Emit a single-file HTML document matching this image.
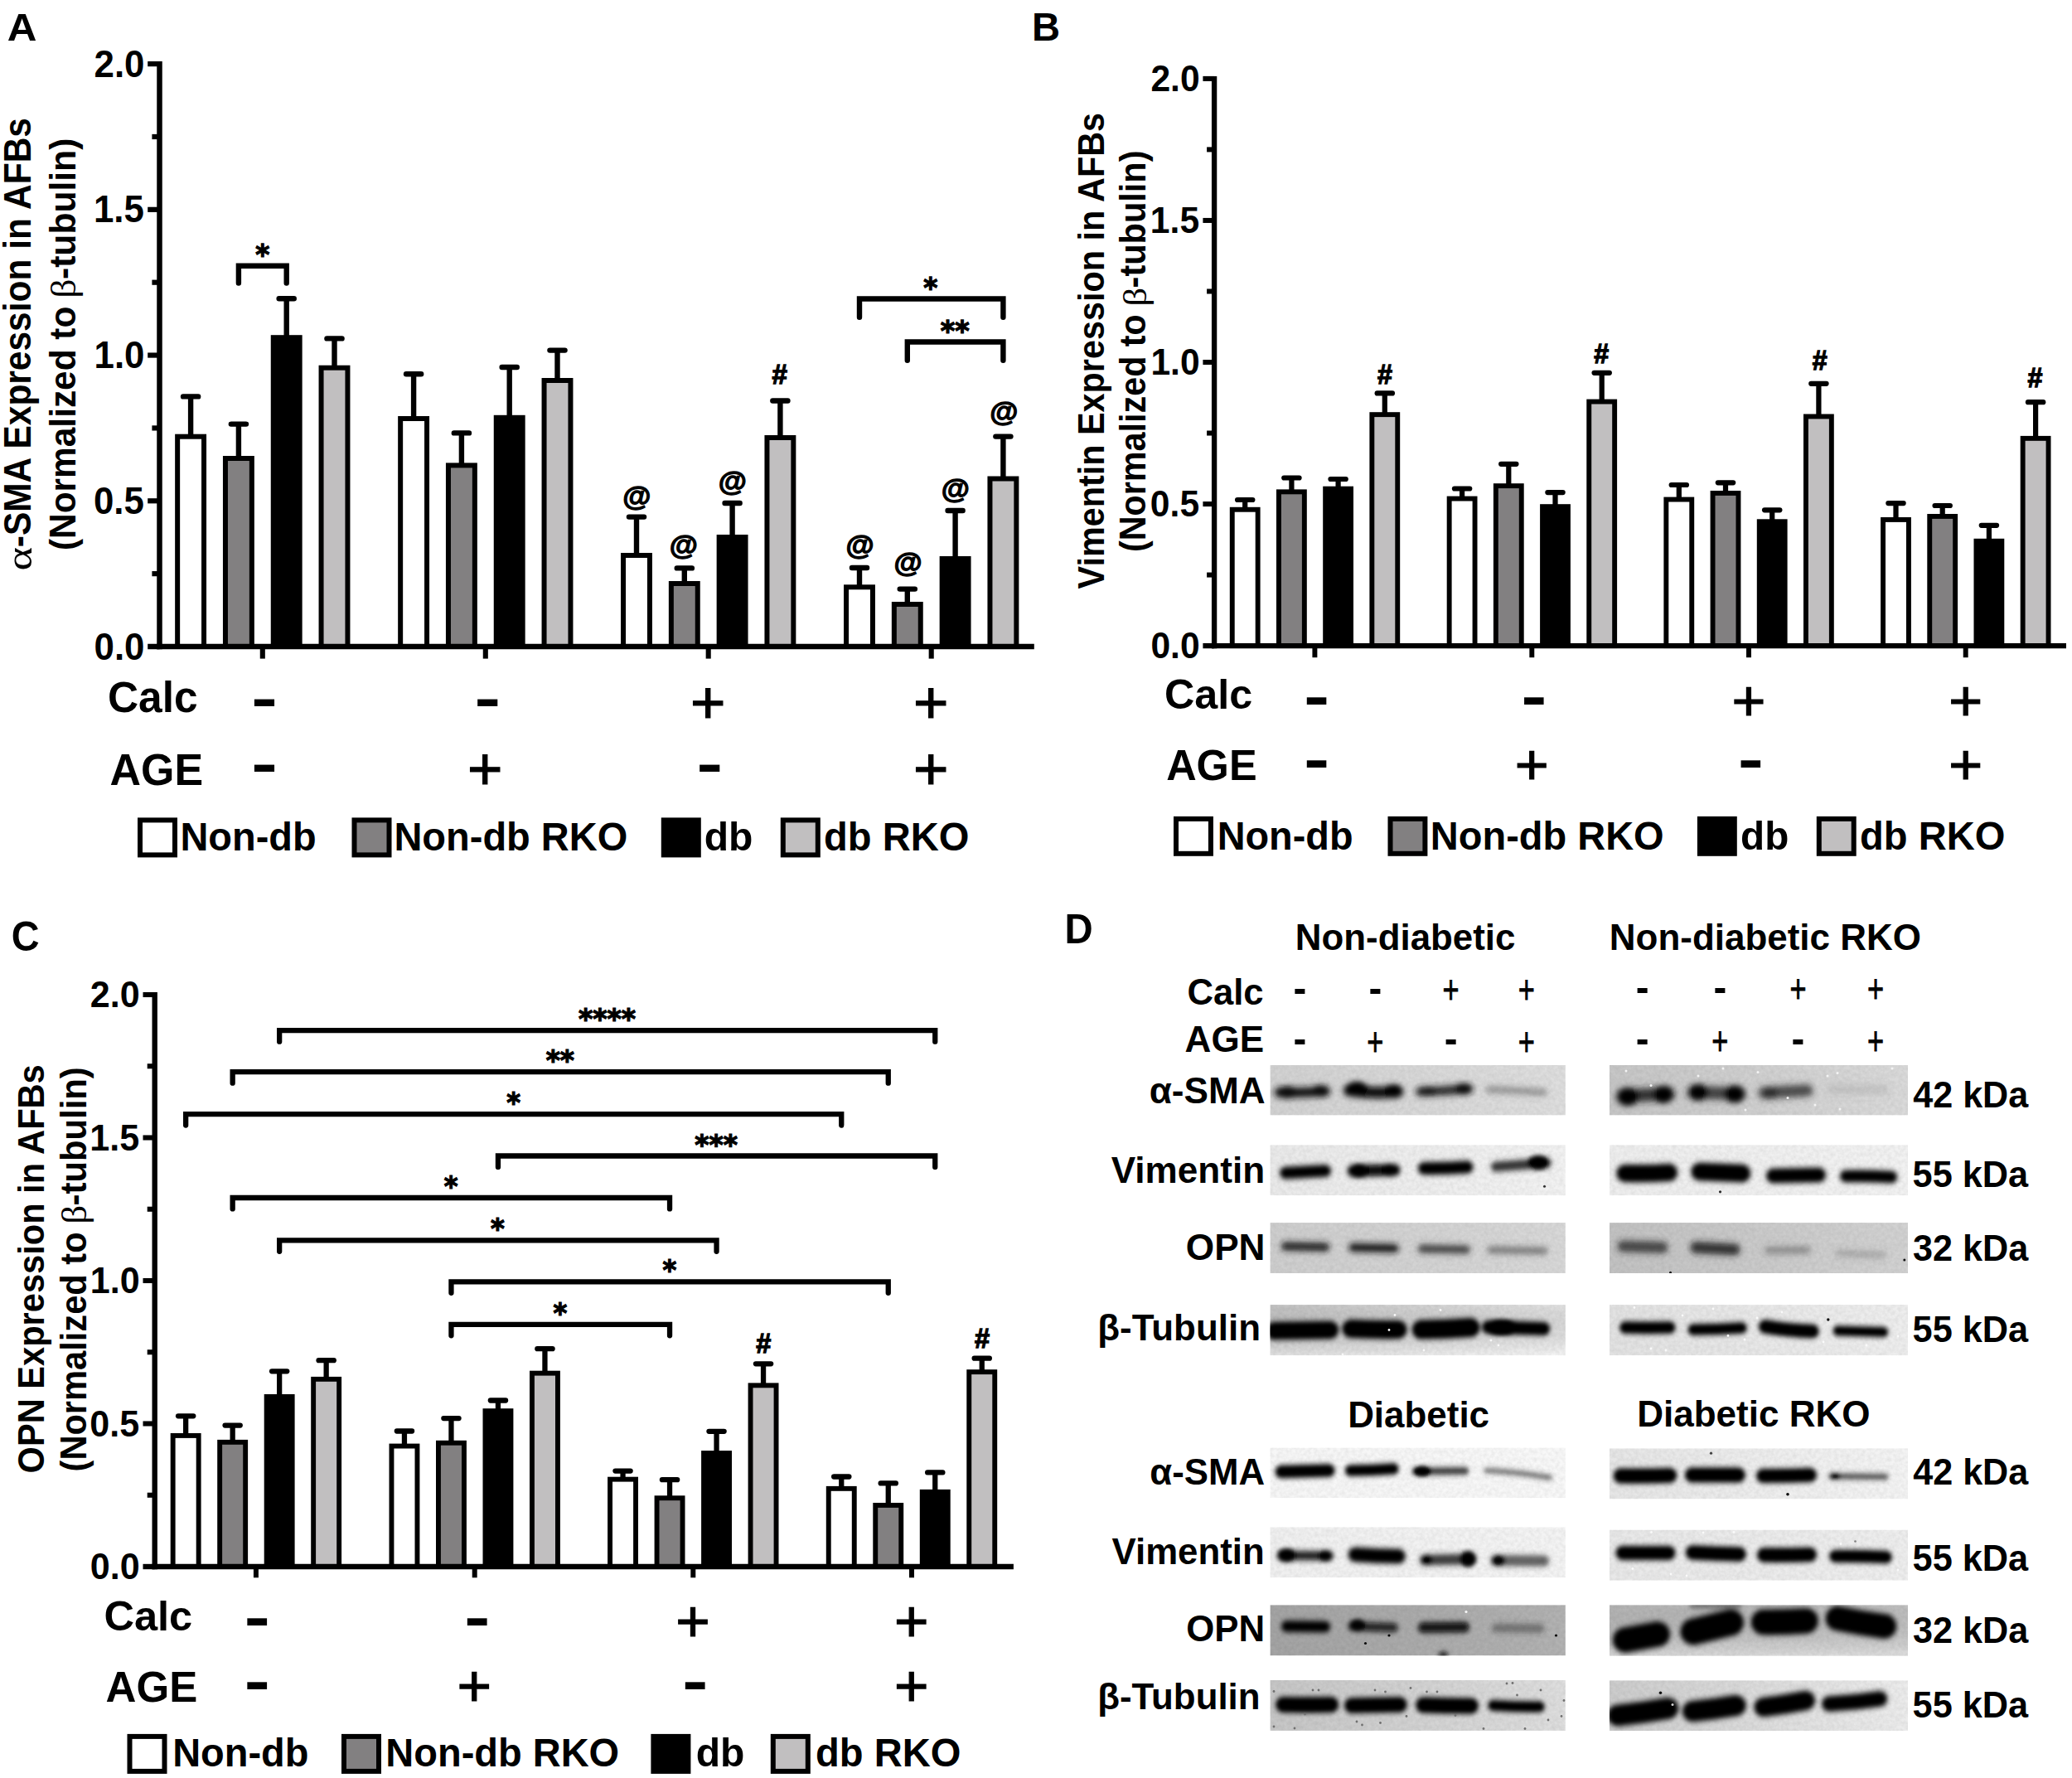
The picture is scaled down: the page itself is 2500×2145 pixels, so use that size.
<!DOCTYPE html>
<html lang="en"><head><meta charset="utf-8"><title>Figure</title>
<style>html,body{margin:0;padding:0;background:#fff}body{width:2500px;height:2145px;overflow:hidden}</style></head>
<body>
<svg width="2500" height="2145" viewBox="0 0 2500 2145" style="display:block">
<rect width="2500" height="2145" fill="#fff"/>
<line x1="230.1" y1="478.4" x2="230.1" y2="526.7" stroke="#000" stroke-width="6.4" stroke-linecap="butt"/>
<line x1="221.05" y1="478.4" x2="239.15" y2="478.4" stroke="#000" stroke-width="6.4" stroke-linecap="round"/>
<rect x="214.15" y="526.7" width="31.9" height="253.3" fill="#ffffff" stroke="#000" stroke-width="6"/>
<line x1="287.9" y1="511.6" x2="287.9" y2="553" stroke="#000" stroke-width="6.4" stroke-linecap="butt"/>
<line x1="278.85" y1="511.6" x2="296.95" y2="511.6" stroke="#000" stroke-width="6.4" stroke-linecap="round"/>
<rect x="271.95" y="553" width="31.9" height="227" fill="#828081" stroke="#000" stroke-width="6"/>
<line x1="345.7" y1="360.2" x2="345.7" y2="407.2" stroke="#000" stroke-width="6.4" stroke-linecap="butt"/>
<line x1="336.65" y1="360.2" x2="354.75" y2="360.2" stroke="#000" stroke-width="6.4" stroke-linecap="round"/>
<rect x="329.75" y="407.2" width="31.9" height="372.8" fill="#000000" stroke="#000" stroke-width="6"/>
<line x1="403.5" y1="408.4" x2="403.5" y2="443.7" stroke="#000" stroke-width="6.4" stroke-linecap="butt"/>
<line x1="394.45" y1="408.4" x2="412.55" y2="408.4" stroke="#000" stroke-width="6.4" stroke-linecap="round"/>
<rect x="387.55" y="443.7" width="31.9" height="336.3" fill="#c1bfc0" stroke="#000" stroke-width="6"/>
<line x1="499.1" y1="451.3" x2="499.1" y2="505" stroke="#000" stroke-width="6.4" stroke-linecap="butt"/>
<line x1="490.05" y1="451.3" x2="508.15" y2="451.3" stroke="#000" stroke-width="6.4" stroke-linecap="round"/>
<rect x="483.15" y="505" width="31.9" height="275" fill="#ffffff" stroke="#000" stroke-width="6"/>
<line x1="556.9" y1="522.4" x2="556.9" y2="561.4" stroke="#000" stroke-width="6.4" stroke-linecap="butt"/>
<line x1="547.85" y1="522.4" x2="565.95" y2="522.4" stroke="#000" stroke-width="6.4" stroke-linecap="round"/>
<rect x="540.95" y="561.4" width="31.9" height="218.6" fill="#828081" stroke="#000" stroke-width="6"/>
<line x1="614.7" y1="443" x2="614.7" y2="503.8" stroke="#000" stroke-width="6.4" stroke-linecap="butt"/>
<line x1="605.65" y1="443" x2="623.75" y2="443" stroke="#000" stroke-width="6.4" stroke-linecap="round"/>
<rect x="598.75" y="503.8" width="31.9" height="276.2" fill="#000000" stroke="#000" stroke-width="6"/>
<line x1="672.5" y1="422.6" x2="672.5" y2="459" stroke="#000" stroke-width="6.4" stroke-linecap="butt"/>
<line x1="663.45" y1="422.6" x2="681.55" y2="422.6" stroke="#000" stroke-width="6.4" stroke-linecap="round"/>
<rect x="656.55" y="459" width="31.9" height="321" fill="#c1bfc0" stroke="#000" stroke-width="6"/>
<line x1="768" y1="623.6" x2="768" y2="670" stroke="#000" stroke-width="6.4" stroke-linecap="butt"/>
<line x1="758.95" y1="623.6" x2="777.05" y2="623.6" stroke="#000" stroke-width="6.4" stroke-linecap="round"/>
<rect x="752.05" y="670" width="31.9" height="110" fill="#ffffff" stroke="#000" stroke-width="6"/>
<line x1="825.8" y1="685.4" x2="825.8" y2="704" stroke="#000" stroke-width="6.4" stroke-linecap="butt"/>
<line x1="816.75" y1="685.4" x2="834.85" y2="685.4" stroke="#000" stroke-width="6.4" stroke-linecap="round"/>
<rect x="809.85" y="704" width="31.9" height="76" fill="#828081" stroke="#000" stroke-width="6"/>
<line x1="883.6" y1="607" x2="883.6" y2="648" stroke="#000" stroke-width="6.4" stroke-linecap="butt"/>
<line x1="874.55" y1="607" x2="892.65" y2="607" stroke="#000" stroke-width="6.4" stroke-linecap="round"/>
<rect x="867.65" y="648" width="31.9" height="132" fill="#000000" stroke="#000" stroke-width="6"/>
<line x1="941.4" y1="483.5" x2="941.4" y2="528" stroke="#000" stroke-width="6.4" stroke-linecap="butt"/>
<line x1="932.35" y1="483.5" x2="950.45" y2="483.5" stroke="#000" stroke-width="6.4" stroke-linecap="round"/>
<rect x="925.45" y="528" width="31.9" height="252" fill="#c1bfc0" stroke="#000" stroke-width="6"/>
<line x1="1037" y1="685" x2="1037" y2="708.3" stroke="#000" stroke-width="6.4" stroke-linecap="butt"/>
<line x1="1027.95" y1="685" x2="1046.05" y2="685" stroke="#000" stroke-width="6.4" stroke-linecap="round"/>
<rect x="1021.05" y="708.3" width="31.9" height="71.7" fill="#ffffff" stroke="#000" stroke-width="6"/>
<line x1="1094.8" y1="710.6" x2="1094.8" y2="729" stroke="#000" stroke-width="6.4" stroke-linecap="butt"/>
<line x1="1085.75" y1="710.6" x2="1103.85" y2="710.6" stroke="#000" stroke-width="6.4" stroke-linecap="round"/>
<rect x="1078.85" y="729" width="31.9" height="51" fill="#828081" stroke="#000" stroke-width="6"/>
<line x1="1152.6" y1="616" x2="1152.6" y2="674" stroke="#000" stroke-width="6.4" stroke-linecap="butt"/>
<line x1="1143.55" y1="616" x2="1161.65" y2="616" stroke="#000" stroke-width="6.4" stroke-linecap="round"/>
<rect x="1136.65" y="674" width="31.9" height="106" fill="#000000" stroke="#000" stroke-width="6"/>
<line x1="1210.4" y1="526.6" x2="1210.4" y2="577.5" stroke="#000" stroke-width="6.4" stroke-linecap="butt"/>
<line x1="1201.35" y1="526.6" x2="1219.45" y2="526.6" stroke="#000" stroke-width="6.4" stroke-linecap="round"/>
<rect x="1194.45" y="577.5" width="31.9" height="202.5" fill="#c1bfc0" stroke="#000" stroke-width="6"/>
<line x1="192.5" y1="74" x2="192.5" y2="783.25" stroke="#000" stroke-width="6.5" stroke-linecap="butt"/>
<line x1="189.25" y1="780" x2="1247.8" y2="780" stroke="#000" stroke-width="6.5" stroke-linecap="butt"/>
<line x1="178.2" y1="780" x2="192.5" y2="780" stroke="#000" stroke-width="6.5" stroke-linecap="butt"/>
<text transform="translate(113.5 795.58) scale(0.4385 0.4530)" font-family='"Liberation Sans", Arial, sans-serif' font-weight="bold" font-size="100">0.0</text>
<line x1="183.4" y1="692.14" x2="192.5" y2="692.14" stroke="#000" stroke-width="6.2" stroke-linecap="butt"/>
<line x1="178.2" y1="604.27" x2="192.5" y2="604.27" stroke="#000" stroke-width="6.2" stroke-linecap="butt"/>
<text transform="translate(112.95 619.86) scale(0.4385 0.4530)" font-family='"Liberation Sans", Arial, sans-serif' font-weight="bold" font-size="100">0.5</text>
<line x1="183.4" y1="516.41" x2="192.5" y2="516.41" stroke="#000" stroke-width="6.2" stroke-linecap="butt"/>
<line x1="178.2" y1="428.55" x2="192.5" y2="428.55" stroke="#000" stroke-width="6.2" stroke-linecap="butt"/>
<text transform="translate(113.5 444.13) scale(0.4385 0.4530)" font-family='"Liberation Sans", Arial, sans-serif' font-weight="bold" font-size="100">1.0</text>
<line x1="183.4" y1="340.69" x2="192.5" y2="340.69" stroke="#000" stroke-width="6.2" stroke-linecap="butt"/>
<line x1="178.2" y1="252.83" x2="192.5" y2="252.83" stroke="#000" stroke-width="6.2" stroke-linecap="butt"/>
<text transform="translate(112.95 268.41) scale(0.4385 0.4530)" font-family='"Liberation Sans", Arial, sans-serif' font-weight="bold" font-size="100">1.5</text>
<line x1="183.4" y1="164.96" x2="192.5" y2="164.96" stroke="#000" stroke-width="6.2" stroke-linecap="butt"/>
<line x1="178.2" y1="77.1" x2="192.5" y2="77.1" stroke="#000" stroke-width="6.2" stroke-linecap="butt"/>
<text transform="translate(113.5 92.68) scale(0.4385 0.4530)" font-family='"Liberation Sans", Arial, sans-serif' font-weight="bold" font-size="100">2.0</text>
<line x1="316.8" y1="780" x2="316.8" y2="794.6" stroke="#000" stroke-width="6.1" stroke-linecap="butt"/>
<line x1="585.8" y1="780" x2="585.8" y2="794.6" stroke="#000" stroke-width="6.1" stroke-linecap="butt"/>
<line x1="854.7" y1="780" x2="854.7" y2="794.6" stroke="#000" stroke-width="6.1" stroke-linecap="butt"/>
<line x1="1123.7" y1="780" x2="1123.7" y2="794.6" stroke="#000" stroke-width="6.1" stroke-linecap="butt"/>
<line x1="1502.2" y1="603" x2="1502.2" y2="614.8" stroke="#000" stroke-width="6.23" stroke-linecap="butt"/>
<line x1="1493.06" y1="603" x2="1511.34" y2="603" stroke="#000" stroke-width="6.23" stroke-linecap="round"/>
<rect x="1486.75" y="614.75" width="30.9" height="164.35" fill="#ffffff" stroke="#000" stroke-width="5.9"/>
<line x1="1558.4" y1="576.5" x2="1558.4" y2="593.4" stroke="#000" stroke-width="6.23" stroke-linecap="butt"/>
<line x1="1549.26" y1="576.5" x2="1567.54" y2="576.5" stroke="#000" stroke-width="6.23" stroke-linecap="round"/>
<rect x="1542.95" y="593.35" width="30.9" height="185.75" fill="#828081" stroke="#000" stroke-width="5.9"/>
<line x1="1614.6" y1="578" x2="1614.6" y2="589.7" stroke="#000" stroke-width="6.23" stroke-linecap="butt"/>
<line x1="1605.46" y1="578" x2="1623.74" y2="578" stroke="#000" stroke-width="6.23" stroke-linecap="round"/>
<rect x="1599.15" y="589.65" width="30.9" height="189.45" fill="#000000" stroke="#000" stroke-width="5.9"/>
<line x1="1670.8" y1="474.4" x2="1670.8" y2="500.2" stroke="#000" stroke-width="6.23" stroke-linecap="butt"/>
<line x1="1661.66" y1="474.4" x2="1679.94" y2="474.4" stroke="#000" stroke-width="6.23" stroke-linecap="round"/>
<rect x="1655.35" y="500.15" width="30.9" height="278.95" fill="#c1bfc0" stroke="#000" stroke-width="5.9"/>
<line x1="1764.1" y1="589.5" x2="1764.1" y2="601.6" stroke="#000" stroke-width="6.23" stroke-linecap="butt"/>
<line x1="1754.96" y1="589.5" x2="1773.24" y2="589.5" stroke="#000" stroke-width="6.23" stroke-linecap="round"/>
<rect x="1748.65" y="601.55" width="30.9" height="177.55" fill="#ffffff" stroke="#000" stroke-width="5.9"/>
<line x1="1820.3" y1="559.8" x2="1820.3" y2="586.2" stroke="#000" stroke-width="6.23" stroke-linecap="butt"/>
<line x1="1811.16" y1="559.8" x2="1829.44" y2="559.8" stroke="#000" stroke-width="6.23" stroke-linecap="round"/>
<rect x="1804.85" y="586.15" width="30.9" height="192.95" fill="#828081" stroke="#000" stroke-width="5.9"/>
<line x1="1876.5" y1="594.1" x2="1876.5" y2="611.2" stroke="#000" stroke-width="6.23" stroke-linecap="butt"/>
<line x1="1867.36" y1="594.1" x2="1885.64" y2="594.1" stroke="#000" stroke-width="6.23" stroke-linecap="round"/>
<rect x="1861.05" y="611.15" width="30.9" height="167.95" fill="#000000" stroke="#000" stroke-width="5.9"/>
<line x1="1932.7" y1="449.8" x2="1932.7" y2="484.6" stroke="#000" stroke-width="6.23" stroke-linecap="butt"/>
<line x1="1923.56" y1="449.8" x2="1941.84" y2="449.8" stroke="#000" stroke-width="6.23" stroke-linecap="round"/>
<rect x="1917.25" y="484.55" width="30.9" height="294.55" fill="#c1bfc0" stroke="#000" stroke-width="5.9"/>
<line x1="2025.8" y1="585" x2="2025.8" y2="602.6" stroke="#000" stroke-width="6.23" stroke-linecap="butt"/>
<line x1="2016.66" y1="585" x2="2034.94" y2="585" stroke="#000" stroke-width="6.23" stroke-linecap="round"/>
<rect x="2010.35" y="602.55" width="30.9" height="176.55" fill="#ffffff" stroke="#000" stroke-width="5.9"/>
<line x1="2082" y1="582.3" x2="2082" y2="595" stroke="#000" stroke-width="6.23" stroke-linecap="butt"/>
<line x1="2072.86" y1="582.3" x2="2091.14" y2="582.3" stroke="#000" stroke-width="6.23" stroke-linecap="round"/>
<rect x="2066.55" y="594.95" width="30.9" height="184.15" fill="#828081" stroke="#000" stroke-width="5.9"/>
<line x1="2138.2" y1="615.3" x2="2138.2" y2="629.3" stroke="#000" stroke-width="6.23" stroke-linecap="butt"/>
<line x1="2129.06" y1="615.3" x2="2147.34" y2="615.3" stroke="#000" stroke-width="6.23" stroke-linecap="round"/>
<rect x="2122.75" y="629.25" width="30.9" height="149.85" fill="#000000" stroke="#000" stroke-width="5.9"/>
<line x1="2194.4" y1="462.8" x2="2194.4" y2="502.5" stroke="#000" stroke-width="6.23" stroke-linecap="butt"/>
<line x1="2185.26" y1="462.8" x2="2203.54" y2="462.8" stroke="#000" stroke-width="6.23" stroke-linecap="round"/>
<rect x="2178.95" y="502.45" width="30.9" height="276.65" fill="#c1bfc0" stroke="#000" stroke-width="5.9"/>
<line x1="2287.5" y1="607.1" x2="2287.5" y2="627" stroke="#000" stroke-width="6.23" stroke-linecap="butt"/>
<line x1="2278.36" y1="607.1" x2="2296.64" y2="607.1" stroke="#000" stroke-width="6.23" stroke-linecap="round"/>
<rect x="2272.05" y="626.95" width="30.9" height="152.15" fill="#ffffff" stroke="#000" stroke-width="5.9"/>
<line x1="2343.7" y1="610" x2="2343.7" y2="623" stroke="#000" stroke-width="6.23" stroke-linecap="butt"/>
<line x1="2334.56" y1="610" x2="2352.84" y2="610" stroke="#000" stroke-width="6.23" stroke-linecap="round"/>
<rect x="2328.25" y="622.95" width="30.9" height="156.15" fill="#828081" stroke="#000" stroke-width="5.9"/>
<line x1="2399.9" y1="633.8" x2="2399.9" y2="652.8" stroke="#000" stroke-width="6.23" stroke-linecap="butt"/>
<line x1="2390.76" y1="633.8" x2="2409.04" y2="633.8" stroke="#000" stroke-width="6.23" stroke-linecap="round"/>
<rect x="2384.45" y="652.75" width="30.9" height="126.35" fill="#000000" stroke="#000" stroke-width="5.9"/>
<line x1="2456.1" y1="485.2" x2="2456.1" y2="528.9" stroke="#000" stroke-width="6.23" stroke-linecap="butt"/>
<line x1="2446.96" y1="485.2" x2="2465.24" y2="485.2" stroke="#000" stroke-width="6.23" stroke-linecap="round"/>
<rect x="2440.65" y="528.85" width="30.9" height="250.25" fill="#c1bfc0" stroke="#000" stroke-width="5.9"/>
<line x1="1465.1" y1="91.88" x2="1465.1" y2="782.26" stroke="#000" stroke-width="6.32" stroke-linecap="butt"/>
<line x1="1461.94" y1="779.1" x2="2493" y2="779.1" stroke="#000" stroke-width="6.32" stroke-linecap="butt"/>
<line x1="1451.4" y1="779.1" x2="1465.1" y2="779.1" stroke="#000" stroke-width="6.32" stroke-linecap="butt"/>
<text transform="translate(1388.4 794.24) scale(0.4259 0.4400)" font-family='"Liberation Sans", Arial, sans-serif' font-weight="bold" font-size="100">0.0</text>
<line x1="1456.1" y1="693.58" x2="1465.1" y2="693.58" stroke="#000" stroke-width="6.03" stroke-linecap="butt"/>
<line x1="1451.4" y1="608.05" x2="1465.1" y2="608.05" stroke="#000" stroke-width="6.03" stroke-linecap="butt"/>
<text transform="translate(1387.87 623.19) scale(0.4259 0.4400)" font-family='"Liberation Sans", Arial, sans-serif' font-weight="bold" font-size="100">0.5</text>
<line x1="1456.1" y1="522.52" x2="1465.1" y2="522.52" stroke="#000" stroke-width="6.03" stroke-linecap="butt"/>
<line x1="1451.4" y1="437" x2="1465.1" y2="437" stroke="#000" stroke-width="6.03" stroke-linecap="butt"/>
<text transform="translate(1388.4 452.14) scale(0.4259 0.4400)" font-family='"Liberation Sans", Arial, sans-serif' font-weight="bold" font-size="100">1.0</text>
<line x1="1456.1" y1="351.48" x2="1465.1" y2="351.48" stroke="#000" stroke-width="6.03" stroke-linecap="butt"/>
<line x1="1451.4" y1="265.95" x2="1465.1" y2="265.95" stroke="#000" stroke-width="6.03" stroke-linecap="butt"/>
<text transform="translate(1387.87 281.09) scale(0.4259 0.4400)" font-family='"Liberation Sans", Arial, sans-serif' font-weight="bold" font-size="100">1.5</text>
<line x1="1456.1" y1="180.42" x2="1465.1" y2="180.42" stroke="#000" stroke-width="6.03" stroke-linecap="butt"/>
<line x1="1451.4" y1="94.9" x2="1465.1" y2="94.9" stroke="#000" stroke-width="6.03" stroke-linecap="butt"/>
<text transform="translate(1388.4 110.04) scale(0.4259 0.4400)" font-family='"Liberation Sans", Arial, sans-serif' font-weight="bold" font-size="100">2.0</text>
<line x1="1586.4" y1="779.1" x2="1586.4" y2="793.2" stroke="#000" stroke-width="5.94" stroke-linecap="butt"/>
<line x1="1848.3" y1="779.1" x2="1848.3" y2="793.2" stroke="#000" stroke-width="5.94" stroke-linecap="butt"/>
<line x1="2110" y1="779.1" x2="2110" y2="793.2" stroke="#000" stroke-width="5.94" stroke-linecap="butt"/>
<line x1="2371.7" y1="779.1" x2="2371.7" y2="793.2" stroke="#000" stroke-width="5.94" stroke-linecap="butt"/>
<line x1="224.15" y1="1708.3" x2="224.15" y2="1732" stroke="#000" stroke-width="6.28" stroke-linecap="butt"/>
<line x1="215.04" y1="1708.3" x2="233.26" y2="1708.3" stroke="#000" stroke-width="6.28" stroke-linecap="round"/>
<rect x="208.65" y="1731.95" width="31" height="158.05" fill="#ffffff" stroke="#000" stroke-width="5.9"/>
<line x1="280.65" y1="1719.6" x2="280.65" y2="1739.9" stroke="#000" stroke-width="6.28" stroke-linecap="butt"/>
<line x1="271.54" y1="1719.6" x2="289.76" y2="1719.6" stroke="#000" stroke-width="6.28" stroke-linecap="round"/>
<rect x="265.15" y="1739.85" width="31" height="150.15" fill="#828081" stroke="#000" stroke-width="5.9"/>
<line x1="337.15" y1="1654.3" x2="337.15" y2="1685" stroke="#000" stroke-width="6.28" stroke-linecap="butt"/>
<line x1="328.04" y1="1654.3" x2="346.26" y2="1654.3" stroke="#000" stroke-width="6.28" stroke-linecap="round"/>
<rect x="321.65" y="1684.95" width="31" height="205.05" fill="#000000" stroke="#000" stroke-width="5.9"/>
<line x1="393.65" y1="1641.2" x2="393.65" y2="1663.9" stroke="#000" stroke-width="6.28" stroke-linecap="butt"/>
<line x1="384.54" y1="1641.2" x2="402.76" y2="1641.2" stroke="#000" stroke-width="6.28" stroke-linecap="round"/>
<rect x="378.15" y="1663.85" width="31" height="226.15" fill="#c1bfc0" stroke="#000" stroke-width="5.9"/>
<line x1="487.95" y1="1726.5" x2="487.95" y2="1744.6" stroke="#000" stroke-width="6.28" stroke-linecap="butt"/>
<line x1="478.84" y1="1726.5" x2="497.06" y2="1726.5" stroke="#000" stroke-width="6.28" stroke-linecap="round"/>
<rect x="472.45" y="1744.55" width="31" height="145.45" fill="#ffffff" stroke="#000" stroke-width="5.9"/>
<line x1="544.45" y1="1711.1" x2="544.45" y2="1740.8" stroke="#000" stroke-width="6.28" stroke-linecap="butt"/>
<line x1="535.34" y1="1711.1" x2="553.56" y2="1711.1" stroke="#000" stroke-width="6.28" stroke-linecap="round"/>
<rect x="528.95" y="1740.75" width="31" height="149.25" fill="#828081" stroke="#000" stroke-width="5.9"/>
<line x1="600.95" y1="1689.5" x2="600.95" y2="1702.2" stroke="#000" stroke-width="6.28" stroke-linecap="butt"/>
<line x1="591.84" y1="1689.5" x2="610.06" y2="1689.5" stroke="#000" stroke-width="6.28" stroke-linecap="round"/>
<rect x="585.45" y="1702.15" width="31" height="187.85" fill="#000000" stroke="#000" stroke-width="5.9"/>
<line x1="657.45" y1="1627.2" x2="657.45" y2="1656.7" stroke="#000" stroke-width="6.28" stroke-linecap="butt"/>
<line x1="648.34" y1="1627.2" x2="666.56" y2="1627.2" stroke="#000" stroke-width="6.28" stroke-linecap="round"/>
<rect x="641.95" y="1656.65" width="31" height="233.35" fill="#c1bfc0" stroke="#000" stroke-width="5.9"/>
<line x1="751.55" y1="1774.6" x2="751.55" y2="1784.7" stroke="#000" stroke-width="6.28" stroke-linecap="butt"/>
<line x1="742.44" y1="1774.6" x2="760.66" y2="1774.6" stroke="#000" stroke-width="6.28" stroke-linecap="round"/>
<rect x="736.05" y="1784.65" width="31" height="105.35" fill="#ffffff" stroke="#000" stroke-width="5.9"/>
<line x1="808.05" y1="1785.2" x2="808.05" y2="1807.3" stroke="#000" stroke-width="6.28" stroke-linecap="butt"/>
<line x1="798.94" y1="1785.2" x2="817.16" y2="1785.2" stroke="#000" stroke-width="6.28" stroke-linecap="round"/>
<rect x="792.55" y="1807.25" width="31" height="82.75" fill="#828081" stroke="#000" stroke-width="5.9"/>
<line x1="864.55" y1="1726.8" x2="864.55" y2="1753.1" stroke="#000" stroke-width="6.28" stroke-linecap="butt"/>
<line x1="855.44" y1="1726.8" x2="873.66" y2="1726.8" stroke="#000" stroke-width="6.28" stroke-linecap="round"/>
<rect x="849.05" y="1753.05" width="31" height="136.95" fill="#000000" stroke="#000" stroke-width="5.9"/>
<line x1="921.05" y1="1645.3" x2="921.05" y2="1671.4" stroke="#000" stroke-width="6.28" stroke-linecap="butt"/>
<line x1="911.94" y1="1645.3" x2="930.16" y2="1645.3" stroke="#000" stroke-width="6.28" stroke-linecap="round"/>
<rect x="905.55" y="1671.35" width="31" height="218.65" fill="#c1bfc0" stroke="#000" stroke-width="5.9"/>
<line x1="1015.25" y1="1781.5" x2="1015.25" y2="1795.9" stroke="#000" stroke-width="6.28" stroke-linecap="butt"/>
<line x1="1006.14" y1="1781.5" x2="1024.36" y2="1781.5" stroke="#000" stroke-width="6.28" stroke-linecap="round"/>
<rect x="999.75" y="1795.85" width="31" height="94.15" fill="#ffffff" stroke="#000" stroke-width="5.9"/>
<line x1="1071.75" y1="1789.4" x2="1071.75" y2="1816" stroke="#000" stroke-width="6.28" stroke-linecap="butt"/>
<line x1="1062.64" y1="1789.4" x2="1080.86" y2="1789.4" stroke="#000" stroke-width="6.28" stroke-linecap="round"/>
<rect x="1056.25" y="1815.95" width="31" height="74.05" fill="#828081" stroke="#000" stroke-width="5.9"/>
<line x1="1128.25" y1="1776.4" x2="1128.25" y2="1799.9" stroke="#000" stroke-width="6.28" stroke-linecap="butt"/>
<line x1="1119.14" y1="1776.4" x2="1137.36" y2="1776.4" stroke="#000" stroke-width="6.28" stroke-linecap="round"/>
<rect x="1112.75" y="1799.85" width="31" height="90.15" fill="#000000" stroke="#000" stroke-width="5.9"/>
<line x1="1184.75" y1="1638.7" x2="1184.75" y2="1655.2" stroke="#000" stroke-width="6.28" stroke-linecap="butt"/>
<line x1="1175.64" y1="1638.7" x2="1193.86" y2="1638.7" stroke="#000" stroke-width="6.28" stroke-linecap="round"/>
<rect x="1169.25" y="1655.15" width="31" height="234.85" fill="#c1bfc0" stroke="#000" stroke-width="5.9"/>
<line x1="186.7" y1="1196.96" x2="186.7" y2="1893.19" stroke="#000" stroke-width="6.38" stroke-linecap="butt"/>
<line x1="183.51" y1="1890" x2="1222.9" y2="1890" stroke="#000" stroke-width="6.38" stroke-linecap="butt"/>
<line x1="172.5" y1="1890" x2="186.7" y2="1890" stroke="#000" stroke-width="6.38" stroke-linecap="butt"/>
<text transform="translate(108.85 1905.31) scale(0.4308 0.4450)" font-family='"Liberation Sans", Arial, sans-serif' font-weight="bold" font-size="100">0.0</text>
<line x1="177.7" y1="1803.75" x2="186.7" y2="1803.75" stroke="#000" stroke-width="6.08" stroke-linecap="butt"/>
<line x1="172.5" y1="1717.5" x2="186.7" y2="1717.5" stroke="#000" stroke-width="6.08" stroke-linecap="butt"/>
<text transform="translate(108.31 1732.81) scale(0.4308 0.4450)" font-family='"Liberation Sans", Arial, sans-serif' font-weight="bold" font-size="100">0.5</text>
<line x1="177.7" y1="1631.25" x2="186.7" y2="1631.25" stroke="#000" stroke-width="6.08" stroke-linecap="butt"/>
<line x1="172.5" y1="1545" x2="186.7" y2="1545" stroke="#000" stroke-width="6.08" stroke-linecap="butt"/>
<text transform="translate(108.85 1560.31) scale(0.4308 0.4450)" font-family='"Liberation Sans", Arial, sans-serif' font-weight="bold" font-size="100">1.0</text>
<line x1="177.7" y1="1458.75" x2="186.7" y2="1458.75" stroke="#000" stroke-width="6.08" stroke-linecap="butt"/>
<line x1="172.5" y1="1372.5" x2="186.7" y2="1372.5" stroke="#000" stroke-width="6.08" stroke-linecap="butt"/>
<text transform="translate(108.31 1387.81) scale(0.4308 0.4450)" font-family='"Liberation Sans", Arial, sans-serif' font-weight="bold" font-size="100">1.5</text>
<line x1="177.7" y1="1286.25" x2="186.7" y2="1286.25" stroke="#000" stroke-width="6.08" stroke-linecap="butt"/>
<line x1="172.5" y1="1200" x2="186.7" y2="1200" stroke="#000" stroke-width="6.08" stroke-linecap="butt"/>
<text transform="translate(108.85 1215.31) scale(0.4308 0.4450)" font-family='"Liberation Sans", Arial, sans-serif' font-weight="bold" font-size="100">2.0</text>
<line x1="308.9" y1="1890" x2="308.9" y2="1903.3" stroke="#000" stroke-width="5.98" stroke-linecap="butt"/>
<line x1="572.7" y1="1890" x2="572.7" y2="1903.3" stroke="#000" stroke-width="5.98" stroke-linecap="butt"/>
<line x1="836.3" y1="1890" x2="836.3" y2="1903.3" stroke="#000" stroke-width="5.98" stroke-linecap="butt"/>
<line x1="1100" y1="1890" x2="1100" y2="1903.3" stroke="#000" stroke-width="5.98" stroke-linecap="butt"/>
<text transform="translate(8.76 48.9) scale(0.4940 0.4698)" font-family='"Liberation Sans", Arial, sans-serif' font-weight="bold" font-size="100">A</text>
<text transform="translate(1245.01 48.6) scale(0.4721 0.4785)" font-family='"Liberation Sans", Arial, sans-serif' font-weight="bold" font-size="100">B</text>
<text transform="translate(13.83 1146.91) scale(0.4687 0.4919)" font-family='"Liberation Sans", Arial, sans-serif' font-weight="bold" font-size="100">C</text>
<text transform="translate(1284.6 1137.6) scale(0.4735 0.4902)" font-family='"Liberation Sans", Arial, sans-serif' font-weight="bold" font-size="100">D</text>
<path d="M287.9 341.6 V320.8 H345.7 V341.6" fill="none" stroke="#000" stroke-width="6.4" stroke-linecap="round" stroke-linejoin="miter"/>
<path d="M1037 382.8 V360.5 H1210.4 V382.8" fill="none" stroke="#000" stroke-width="6.4" stroke-linecap="round" stroke-linejoin="miter"/>
<path d="M1094.8 434.7 V412.5 H1210.4 V434.7" fill="none" stroke="#000" stroke-width="6.4" stroke-linecap="round" stroke-linejoin="miter"/>
<text transform="translate(308.27 318.87) scale(0.3264 0.3387)" font-family='"DejaVu Sans", "Liberation Sans", sans-serif' font-weight="bold" font-size="100" stroke="#000" stroke-width="3.76" stroke-linejoin="miter">*</text>
<text transform="translate(1114.37 358.87) scale(0.3264 0.3387)" font-family='"DejaVu Sans", "Liberation Sans", sans-serif' font-weight="bold" font-size="100" stroke="#000" stroke-width="3.76" stroke-linejoin="miter">*</text>
<text transform="translate(1134.76 410.97) scale(0.3338 0.3387)" font-family='"DejaVu Sans", "Liberation Sans", sans-serif' font-weight="bold" font-size="100" stroke="#000" stroke-width="3.72" stroke-linejoin="miter">**</text>
<text transform="translate(931.47 463.35) scale(0.3311 0.3338)" font-family='"Liberation Sans", Arial, sans-serif' font-weight="bold" font-size="100" stroke="#000" stroke-width="3.91" stroke-linejoin="miter">#</text>
<text transform="translate(751.34 610.33) scale(0.3500 0.3378)" font-family='"Liberation Sans", Arial, sans-serif' font-weight="bold" font-size="100" stroke="#000" stroke-width="3.78" stroke-linejoin="miter">@</text>
<text transform="translate(807.74 669.33) scale(0.3500 0.3378)" font-family='"Liberation Sans", Arial, sans-serif' font-weight="bold" font-size="100" stroke="#000" stroke-width="3.78" stroke-linejoin="miter">@</text>
<text transform="translate(866.84 592.43) scale(0.3500 0.3378)" font-family='"Liberation Sans", Arial, sans-serif' font-weight="bold" font-size="100" stroke="#000" stroke-width="3.78" stroke-linejoin="miter">@</text>
<text transform="translate(1020.54 669.33) scale(0.3500 0.3378)" font-family='"Liberation Sans", Arial, sans-serif' font-weight="bold" font-size="100" stroke="#000" stroke-width="3.78" stroke-linejoin="miter">@</text>
<text transform="translate(1078.54 690.03) scale(0.3500 0.3378)" font-family='"Liberation Sans", Arial, sans-serif' font-weight="bold" font-size="100" stroke="#000" stroke-width="3.78" stroke-linejoin="miter">@</text>
<text transform="translate(1135.64 600.73) scale(0.3500 0.3378)" font-family='"Liberation Sans", Arial, sans-serif' font-weight="bold" font-size="100" stroke="#000" stroke-width="3.78" stroke-linejoin="miter">@</text>
<text transform="translate(1194.34 507.63) scale(0.3500 0.3378)" font-family='"Liberation Sans", Arial, sans-serif' font-weight="bold" font-size="100" stroke="#000" stroke-width="3.78" stroke-linejoin="miter">@</text>
<text transform="translate(1662.12 463.24) scale(0.3222 0.3248)" font-family='"Liberation Sans", Arial, sans-serif' font-weight="bold" font-size="100" stroke="#000" stroke-width="3.91" stroke-linejoin="miter">#</text>
<text transform="translate(1923.32 437.94) scale(0.3222 0.3248)" font-family='"Liberation Sans", Arial, sans-serif' font-weight="bold" font-size="100" stroke="#000" stroke-width="3.91" stroke-linejoin="miter">#</text>
<text transform="translate(2186.72 446.34) scale(0.3222 0.3248)" font-family='"Liberation Sans", Arial, sans-serif' font-weight="bold" font-size="100" stroke="#000" stroke-width="3.91" stroke-linejoin="miter">#</text>
<text transform="translate(2446.62 466.74) scale(0.3222 0.3248)" font-family='"Liberation Sans", Arial, sans-serif' font-weight="bold" font-size="100" stroke="#000" stroke-width="3.91" stroke-linejoin="miter">#</text>
<path d="M337.15 1256.65 V1243.2 H1128.25 V1256.65" fill="none" stroke="#000" stroke-width="6.3" stroke-linecap="round" stroke-linejoin="miter"/>
<text transform="translate(698.02 1241.25) scale(0.3305 0.3323)" font-family='"DejaVu Sans", "Liberation Sans", sans-serif' font-weight="bold" font-size="100" stroke="#000" stroke-width="3.7" stroke-linejoin="miter">****</text>
<path d="M280.65 1306.65 V1293.2 H1071.75 V1306.65" fill="none" stroke="#000" stroke-width="6.3" stroke-linecap="round" stroke-linejoin="miter"/>
<text transform="translate(658.69 1291.25) scale(0.3275 0.3323)" font-family='"DejaVu Sans", "Liberation Sans", sans-serif' font-weight="bold" font-size="100" stroke="#000" stroke-width="3.72" stroke-linejoin="miter">**</text>
<path d="M224.15 1357.55 V1344.1 H1015.25 V1357.55" fill="none" stroke="#000" stroke-width="6.3" stroke-linecap="round" stroke-linejoin="miter"/>
<text transform="translate(611.23 1342.15) scale(0.3202 0.3323)" font-family='"DejaVu Sans", "Liberation Sans", sans-serif' font-weight="bold" font-size="100" stroke="#000" stroke-width="3.76" stroke-linejoin="miter">*</text>
<path d="M600.95 1407.95 V1394.5 H1128.25 V1407.95" fill="none" stroke="#000" stroke-width="6.3" stroke-linecap="round" stroke-linejoin="miter"/>
<text transform="translate(838.15 1392.55) scale(0.3298 0.3323)" font-family='"DejaVu Sans", "Liberation Sans", sans-serif' font-weight="bold" font-size="100" stroke="#000" stroke-width="3.7" stroke-linejoin="miter">***</text>
<path d="M280.65 1458.45 V1445 H808.05 V1458.45" fill="none" stroke="#000" stroke-width="6.3" stroke-linecap="round" stroke-linejoin="miter"/>
<text transform="translate(535.83 1443.05) scale(0.3202 0.3323)" font-family='"DejaVu Sans", "Liberation Sans", sans-serif' font-weight="bold" font-size="100" stroke="#000" stroke-width="3.76" stroke-linejoin="miter">*</text>
<path d="M337.15 1509.85 V1496.4 H864.55 V1509.85" fill="none" stroke="#000" stroke-width="6.3" stroke-linecap="round" stroke-linejoin="miter"/>
<text transform="translate(592.03 1494.45) scale(0.3202 0.3323)" font-family='"DejaVu Sans", "Liberation Sans", sans-serif' font-weight="bold" font-size="100" stroke="#000" stroke-width="3.76" stroke-linejoin="miter">*</text>
<path d="M544.45 1559.85 V1546.4 H1071.75 V1559.85" fill="none" stroke="#000" stroke-width="6.3" stroke-linecap="round" stroke-linejoin="miter"/>
<text transform="translate(799.43 1544.45) scale(0.3202 0.3323)" font-family='"DejaVu Sans", "Liberation Sans", sans-serif' font-weight="bold" font-size="100" stroke="#000" stroke-width="3.76" stroke-linejoin="miter">*</text>
<path d="M544.45 1611.35 V1597.9 H808.05 V1611.35" fill="none" stroke="#000" stroke-width="6.3" stroke-linecap="round" stroke-linejoin="miter"/>
<text transform="translate(667.43 1595.95) scale(0.3202 0.3323)" font-family='"DejaVu Sans", "Liberation Sans", sans-serif' font-weight="bold" font-size="100" stroke="#000" stroke-width="3.76" stroke-linejoin="miter">*</text>
<text transform="translate(912.35 1631.73) scale(0.3248 0.3275)" font-family='"Liberation Sans", Arial, sans-serif' font-weight="bold" font-size="100" stroke="#000" stroke-width="3.91" stroke-linejoin="miter">#</text>
<text transform="translate(1175.95 1625.63) scale(0.3248 0.3275)" font-family='"Liberation Sans", Arial, sans-serif' font-weight="bold" font-size="100" stroke="#000" stroke-width="3.91" stroke-linejoin="miter">#</text>
<text transform="translate(129.94 858.8) scale(0.5146 0.5130)" font-family='"Liberation Sans", Arial, sans-serif' font-weight="bold" font-size="100">Calc</text>
<text transform="translate(132.4 946.5) scale(0.5199 0.5400)" font-family='"Liberation Sans", Arial, sans-serif' font-weight="bold" font-size="100">AGE</text>
<text transform="translate(302.45 876.06) scale(0.9897 1.0839)" font-family='"Liberation Sans", Arial, sans-serif' font-weight="normal" font-size="100">-</text>
<text transform="translate(302.45 955.46) scale(0.9897 1.0839)" font-family='"Liberation Sans", Arial, sans-serif' font-weight="normal" font-size="100">-</text>
<text transform="translate(571.85 876.06) scale(0.9897 1.0839)" font-family='"Liberation Sans", Arial, sans-serif' font-weight="normal" font-size="100">-</text>
<text transform="translate(564.01 951.85) scale(0.7278 0.7204)" font-family='"Liberation Sans", Arial, sans-serif' font-weight="normal" font-size="100" stroke="#000" stroke-width="1.66" stroke-linejoin="miter">+</text>
<text transform="translate(832.91 872.45) scale(0.7278 0.7204)" font-family='"Liberation Sans", Arial, sans-serif' font-weight="normal" font-size="100" stroke="#000" stroke-width="1.66" stroke-linejoin="miter">+</text>
<text transform="translate(839.65 955.46) scale(0.9897 1.0839)" font-family='"Liberation Sans", Arial, sans-serif' font-weight="normal" font-size="100">-</text>
<text transform="translate(1101.91 872.45) scale(0.7278 0.7204)" font-family='"Liberation Sans", Arial, sans-serif' font-weight="normal" font-size="100" stroke="#000" stroke-width="1.66" stroke-linejoin="miter">+</text>
<text transform="translate(1101.91 951.85) scale(0.7278 0.7204)" font-family='"Liberation Sans", Arial, sans-serif' font-weight="normal" font-size="100" stroke="#000" stroke-width="1.66" stroke-linejoin="miter">+</text>
<rect x="169" y="989.4" width="42" height="42" fill="#ffffff" stroke="#000" stroke-width="6"/>
<text transform="translate(217.43 1025.6) scale(0.4693 0.4880)" font-family='"Liberation Sans", Arial, sans-serif' font-weight="bold" font-size="100">Non-db</text>
<rect x="427.5" y="989.4" width="42" height="42" fill="#828081" stroke="#000" stroke-width="6"/>
<text transform="translate(475.43 1025.6) scale(0.4700 0.4880)" font-family='"Liberation Sans", Arial, sans-serif' font-weight="bold" font-size="100">Non-db RKO</text>
<rect x="800.8" y="989.4" width="42" height="42" fill="#000000" stroke="#000" stroke-width="6"/>
<text transform="translate(849.68 1025.6) scale(0.4807 0.4880)" font-family='"Liberation Sans", Arial, sans-serif' font-weight="bold" font-size="100">db</text>
<rect x="944.8" y="989.4" width="42" height="42" fill="#c1bfc0" stroke="#000" stroke-width="6"/>
<text transform="translate(994.01 1025.6) scale(0.4714 0.4880)" font-family='"Liberation Sans", Arial, sans-serif' font-weight="bold" font-size="100">db RKO</text>
<text transform="translate(1404.99 855) scale(0.5028 0.5000)" font-family='"Liberation Sans", Arial, sans-serif' font-weight="bold" font-size="100">Calc</text>
<text transform="translate(1407.14 941.3) scale(0.5051 0.5200)" font-family='"Liberation Sans", Arial, sans-serif' font-weight="bold" font-size="100">AGE</text>
<text transform="translate(1572.56 874.75) scale(0.9649 1.1097)" font-family='"Liberation Sans", Arial, sans-serif' font-weight="normal" font-size="100">-</text>
<text transform="translate(1572.56 951.35) scale(0.9649 1.1097)" font-family='"Liberation Sans", Arial, sans-serif' font-weight="normal" font-size="100">-</text>
<text transform="translate(1834.66 874.75) scale(0.9649 1.1097)" font-family='"Liberation Sans", Arial, sans-serif' font-weight="normal" font-size="100">-</text>
<text transform="translate(1827.79 945.97) scale(0.7010 0.6939)" font-family='"Liberation Sans", Arial, sans-serif' font-weight="normal" font-size="100" stroke="#000" stroke-width="1.72" stroke-linejoin="miter">+</text>
<text transform="translate(2089.49 869.37) scale(0.7010 0.6939)" font-family='"Liberation Sans", Arial, sans-serif' font-weight="normal" font-size="100" stroke="#000" stroke-width="1.72" stroke-linejoin="miter">+</text>
<text transform="translate(2096.36 951.35) scale(0.9649 1.1097)" font-family='"Liberation Sans", Arial, sans-serif' font-weight="normal" font-size="100">-</text>
<text transform="translate(2351.19 869.37) scale(0.7010 0.6939)" font-family='"Liberation Sans", Arial, sans-serif' font-weight="normal" font-size="100" stroke="#000" stroke-width="1.72" stroke-linejoin="miter">+</text>
<text transform="translate(2351.19 945.97) scale(0.7010 0.6939)" font-family='"Liberation Sans", Arial, sans-serif' font-weight="normal" font-size="100" stroke="#000" stroke-width="1.72" stroke-linejoin="miter">+</text>
<rect x="1419" y="987.9" width="41.9" height="41.9" fill="#ffffff" stroke="#000" stroke-width="6"/>
<text transform="translate(1468.64 1024.9) scale(0.4684 0.4880)" font-family='"Liberation Sans", Arial, sans-serif' font-weight="bold" font-size="100">Non-db</text>
<rect x="1677.5" y="987.9" width="41.9" height="41.9" fill="#828081" stroke="#000" stroke-width="6"/>
<text transform="translate(1725.83 1024.9) scale(0.4700 0.4880)" font-family='"Liberation Sans", Arial, sans-serif' font-weight="bold" font-size="100">Non-db RKO</text>
<rect x="2050.9" y="987.9" width="41.9" height="41.9" fill="#000000" stroke="#000" stroke-width="6"/>
<text transform="translate(2100.09 1024.9) scale(0.4772 0.4880)" font-family='"Liberation Sans", Arial, sans-serif' font-weight="bold" font-size="100">db</text>
<rect x="2194.8" y="987.9" width="41.9" height="41.9" fill="#c1bfc0" stroke="#000" stroke-width="6"/>
<text transform="translate(2244.01 1024.9) scale(0.4714 0.4880)" font-family='"Liberation Sans", Arial, sans-serif' font-weight="bold" font-size="100">db RKO</text>
<text transform="translate(125.38 1966.5) scale(0.5058 0.5050)" font-family='"Liberation Sans", Arial, sans-serif' font-weight="bold" font-size="100">Calc</text>
<text transform="translate(127.52 2052.7) scale(0.5113 0.5250)" font-family='"Liberation Sans", Arial, sans-serif' font-weight="bold" font-size="100">AGE</text>
<text transform="translate(294.12 1985.55) scale(0.9732 1.1097)" font-family='"Liberation Sans", Arial, sans-serif' font-weight="normal" font-size="100">-</text>
<text transform="translate(294.12 2063.15) scale(0.9732 1.1097)" font-family='"Liberation Sans", Arial, sans-serif' font-weight="normal" font-size="100">-</text>
<text transform="translate(559.52 1985.55) scale(0.9732 1.1097)" font-family='"Liberation Sans", Arial, sans-serif' font-weight="normal" font-size="100">-</text>
<text transform="translate(551.59 2058.01) scale(0.7113 0.7041)" font-family='"Liberation Sans", Arial, sans-serif' font-weight="normal" font-size="100" stroke="#000" stroke-width="1.7" stroke-linejoin="miter">+</text>
<text transform="translate(815.19 1980.41) scale(0.7113 0.7041)" font-family='"Liberation Sans", Arial, sans-serif' font-weight="normal" font-size="100" stroke="#000" stroke-width="1.7" stroke-linejoin="miter">+</text>
<text transform="translate(822.52 2063.15) scale(0.9732 1.1097)" font-family='"Liberation Sans", Arial, sans-serif' font-weight="normal" font-size="100">-</text>
<text transform="translate(1078.89 1980.41) scale(0.7113 0.7041)" font-family='"Liberation Sans", Arial, sans-serif' font-weight="normal" font-size="100" stroke="#000" stroke-width="1.7" stroke-linejoin="miter">+</text>
<text transform="translate(1078.89 2058.01) scale(0.7113 0.7041)" font-family='"Liberation Sans", Arial, sans-serif' font-weight="normal" font-size="100" stroke="#000" stroke-width="1.7" stroke-linejoin="miter">+</text>
<rect x="156.5" y="2094.9" width="42" height="42" fill="#ffffff" stroke="#000" stroke-width="6"/>
<text transform="translate(208.13 2131.2) scale(0.4699 0.4880)" font-family='"Liberation Sans", Arial, sans-serif' font-weight="bold" font-size="100">Non-db</text>
<rect x="415" y="2094.9" width="42" height="42" fill="#828081" stroke="#000" stroke-width="6"/>
<text transform="translate(465.33 2131.2) scale(0.4700 0.4880)" font-family='"Liberation Sans", Arial, sans-serif' font-weight="bold" font-size="100">Non-db RKO</text>
<rect x="788.4" y="2094.9" width="42" height="42" fill="#000000" stroke="#000" stroke-width="6"/>
<text transform="translate(839.68 2131.2) scale(0.4807 0.4880)" font-family='"Liberation Sans", Arial, sans-serif' font-weight="bold" font-size="100">db</text>
<rect x="932.8" y="2094.9" width="42" height="42" fill="#c1bfc0" stroke="#000" stroke-width="6"/>
<text transform="translate(984.01 2131.2) scale(0.4714 0.4880)" font-family='"Liberation Sans", Arial, sans-serif' font-weight="bold" font-size="100">db RKO</text>
<text transform="translate(37.75 688.44) rotate(-90) scale(0.5441 0.4477)" font-family='"Liberation Serif", "Times New Roman", serif' font-weight="normal" font-size="100">α</text>
<text transform="translate(36.9 660.2) rotate(-90) scale(0.4246 0.4578)" font-family='"Liberation Sans", Arial, sans-serif' font-weight="bold" font-size="100">-SMA Expression in AFBs</text>
<text transform="translate(90.5 664.02) rotate(-90) scale(0.4241 0.4491)" font-family='"Liberation Sans", Arial, sans-serif' font-weight="bold" font-size="100">(Normalized to</text>
<text transform="translate(90.94 359.67) rotate(-90) scale(0.4571 0.4218)" font-family='"Liberation Serif", "Times New Roman", serif' font-weight="normal" font-size="100">β</text>
<text transform="translate(90.5 337) rotate(-90) scale(0.4261 0.4491)" font-family='"Liberation Sans", Arial, sans-serif' font-weight="bold" font-size="100">-tubulin)</text>
<text transform="translate(1332.2 710.41) rotate(-90) scale(0.4137 0.4448)" font-family='"Liberation Sans", Arial, sans-serif' font-weight="bold" font-size="100">Vimentin Expression in AFBs</text>
<text transform="translate(1382.3 666.07) rotate(-90) scale(0.4132 0.4375)" font-family='"Liberation Sans", Arial, sans-serif' font-weight="bold" font-size="100">(Normalized to</text>
<text transform="translate(1382.73 369.49) rotate(-90) scale(0.4455 0.4110)" font-family='"Liberation Serif", "Times New Roman", serif' font-weight="normal" font-size="100">β</text>
<text transform="translate(1382.3 347.4) rotate(-90) scale(0.4152 0.4375)" font-family='"Liberation Sans", Arial, sans-serif' font-weight="bold" font-size="100">-tubulin)</text>
<text transform="translate(52.8 1777.46) rotate(-90) scale(0.4161 0.4433)" font-family='"Liberation Sans", Arial, sans-serif' font-weight="bold" font-size="100">OPN Expression in AFBs</text>
<text transform="translate(103.5 1775.48) rotate(-90) scale(0.4163 0.4404)" font-family='"Liberation Sans", Arial, sans-serif' font-weight="bold" font-size="100">(Normalized to</text>
<text transform="translate(103.93 1476.69) rotate(-90) scale(0.4488 0.4141)" font-family='"Liberation Serif", "Times New Roman", serif' font-weight="normal" font-size="100">β</text>
<text transform="translate(103.5 1454.44) rotate(-90) scale(0.4183 0.4404)" font-family='"Liberation Sans", Arial, sans-serif' font-weight="bold" font-size="100">-tubulin)</text>
<defs><filter id="bnoise" x="0" y="0" width="1" height="1"><feTurbulence type="fractalNoise" baseFrequency="0.22" numOctaves="2" seed="7" result="n"/><feColorMatrix type="matrix" values="0 0 0 0 0  0 0 0 0 0  0 0 0 0 0  1.6 0 0 0 -0.45"/></filter><clipPath id="bc1"><rect x="1532.4" y="1284.9" width="356.5" height="60.7"/></clipPath><linearGradient id="bg1" x1="0" y1="0" x2="1" y2="0"><stop offset="0" stop-color="#d2d2d2"/><stop offset="1" stop-color="#dedede"/></linearGradient><filter id="bf1" filterUnits="userSpaceOnUse" x="1512.4" y="1264.9" width="396.5" height="100.7"><feGaussianBlur stdDeviation="3"/></filter><clipPath id="bc2"><rect x="1532.4" y="1381.2" width="356.5" height="61"/></clipPath><linearGradient id="bg2" x1="0" y1="0" x2="1" y2="0"><stop offset="0" stop-color="#eaeaea"/><stop offset="1" stop-color="#f2f2f2"/></linearGradient><filter id="bf2" filterUnits="userSpaceOnUse" x="1512.4" y="1361.2" width="396.5" height="101"><feGaussianBlur stdDeviation="2.4"/></filter><clipPath id="bc3"><rect x="1532.4" y="1475.1" width="356.5" height="60.9"/></clipPath><linearGradient id="bg3" x1="0" y1="0" x2="1" y2="0"><stop offset="0" stop-color="#cecece"/><stop offset="1" stop-color="#d8d8d8"/></linearGradient><filter id="bf3" filterUnits="userSpaceOnUse" x="1512.4" y="1455.1" width="396.5" height="100.9"><feGaussianBlur stdDeviation="3"/></filter><clipPath id="bc4"><rect x="1532.4" y="1574.1" width="356.5" height="61.1"/></clipPath><linearGradient id="bg4" x1="0" y1="0" x2="1" y2="0"><stop offset="0" stop-color="#d0d0d0"/><stop offset="1" stop-color="#f0f0f0"/></linearGradient><filter id="bf4" filterUnits="userSpaceOnUse" x="1512.4" y="1554.1" width="396.5" height="101.1"><feGaussianBlur stdDeviation="2.2"/></filter><linearGradient id="bv4" x1="0" y1="0" x2="0" y2="1"><stop offset="0" stop-color="#000" stop-opacity="0.06"/><stop offset="1" stop-color="#fff" stop-opacity="0.35"/></linearGradient><clipPath id="bc5"><rect x="1941.9" y="1284.9" width="360.1" height="60.7"/></clipPath><linearGradient id="bg5" x1="0" y1="0" x2="1" y2="0"><stop offset="0" stop-color="#c6c6c6"/><stop offset="1" stop-color="#dadada"/></linearGradient><filter id="bf5" filterUnits="userSpaceOnUse" x="1921.9" y="1264.9" width="400.1" height="100.7"><feGaussianBlur stdDeviation="3.6"/></filter><clipPath id="bc6"><rect x="1941.9" y="1381.2" width="360.1" height="61"/></clipPath><linearGradient id="bg6" x1="0" y1="0" x2="1" y2="0"><stop offset="0" stop-color="#eeeeee"/><stop offset="1" stop-color="#f2f2f2"/></linearGradient><filter id="bf6" filterUnits="userSpaceOnUse" x="1921.9" y="1361.2" width="400.1" height="101"><feGaussianBlur stdDeviation="2.5"/></filter><clipPath id="bc7"><rect x="1941.9" y="1475.1" width="360.1" height="60.9"/></clipPath><linearGradient id="bg7" x1="0" y1="0" x2="1" y2="0"><stop offset="0" stop-color="#c2c2c2"/><stop offset="1" stop-color="#d2d2d2"/></linearGradient><filter id="bf7" filterUnits="userSpaceOnUse" x="1921.9" y="1455.1" width="400.1" height="100.9"><feGaussianBlur stdDeviation="3.2"/></filter><clipPath id="bc8"><rect x="1941.9" y="1574.1" width="360.1" height="61.1"/></clipPath><linearGradient id="bg8" x1="0" y1="0" x2="1" y2="0"><stop offset="0" stop-color="#e2e2e2"/><stop offset="1" stop-color="#eeeeee"/></linearGradient><filter id="bf8" filterUnits="userSpaceOnUse" x="1921.9" y="1554.1" width="400.1" height="101.1"><feGaussianBlur stdDeviation="2.2"/></filter><clipPath id="bc9"><rect x="1532.4" y="1746.5" width="356.5" height="60.7"/></clipPath><linearGradient id="bg9" x1="0" y1="0" x2="1" y2="0"><stop offset="0" stop-color="#f6f6f6"/><stop offset="1" stop-color="#f8f8f8"/></linearGradient><filter id="bf9" filterUnits="userSpaceOnUse" x="1512.4" y="1726.5" width="396.5" height="100.7"><feGaussianBlur stdDeviation="2.2"/></filter><clipPath id="bc10"><rect x="1532.4" y="1842.3" width="356.5" height="61"/></clipPath><linearGradient id="bg10" x1="0" y1="0" x2="1" y2="0"><stop offset="0" stop-color="#f0f0f0"/><stop offset="1" stop-color="#f4f4f4"/></linearGradient><filter id="bf10" filterUnits="userSpaceOnUse" x="1512.4" y="1822.3" width="396.5" height="101"><feGaussianBlur stdDeviation="2.6"/></filter><clipPath id="bc11"><rect x="1532.4" y="1936.2" width="356.5" height="61.2"/></clipPath><linearGradient id="bg11" x1="0" y1="0" x2="1" y2="0"><stop offset="0" stop-color="#a4a4a4"/><stop offset="1" stop-color="#b2b2b2"/></linearGradient><filter id="bf11" filterUnits="userSpaceOnUse" x="1512.4" y="1916.2" width="396.5" height="101.2"><feGaussianBlur stdDeviation="2.6"/></filter><clipPath id="bc12"><rect x="1532.4" y="2027" width="356.5" height="60.9"/></clipPath><linearGradient id="bg12" x1="0" y1="0" x2="1" y2="0"><stop offset="0" stop-color="#c6c6c6"/><stop offset="1" stop-color="#dedede"/></linearGradient><filter id="bf12" filterUnits="userSpaceOnUse" x="1512.4" y="2007" width="396.5" height="100.9"><feGaussianBlur stdDeviation="2.2"/></filter><clipPath id="bc13"><rect x="1941.9" y="1747.3" width="360.1" height="61.1"/></clipPath><linearGradient id="bg13" x1="0" y1="0" x2="1" y2="0"><stop offset="0" stop-color="#e6e6e6"/><stop offset="1" stop-color="#f4f4f4"/></linearGradient><filter id="bf13" filterUnits="userSpaceOnUse" x="1921.9" y="1727.3" width="400.1" height="101.1"><feGaussianBlur stdDeviation="2.3"/></filter><clipPath id="bc14"><rect x="1941.9" y="1845.6" width="360.1" height="61.1"/></clipPath><linearGradient id="bg14" x1="0" y1="0" x2="1" y2="0"><stop offset="0" stop-color="#e8e8e8"/><stop offset="1" stop-color="#eeeeee"/></linearGradient><filter id="bf14" filterUnits="userSpaceOnUse" x="1921.9" y="1825.6" width="400.1" height="101.1"><feGaussianBlur stdDeviation="2.3"/></filter><clipPath id="bc15"><rect x="1941.9" y="1936.2" width="360.1" height="61.5"/></clipPath><linearGradient id="bg15" x1="0" y1="0" x2="1" y2="0"><stop offset="0" stop-color="#c4c4c4"/><stop offset="1" stop-color="#d0d0d0"/></linearGradient><filter id="bf15" filterUnits="userSpaceOnUse" x="1921.9" y="1916.2" width="400.1" height="101.5"><feGaussianBlur stdDeviation="2.6"/></filter><linearGradient id="bv15" x1="0" y1="0" x2="0" y2="1"><stop offset="0" stop-color="#000" stop-opacity="0.08"/><stop offset="1" stop-color="#fff" stop-opacity="0.3"/></linearGradient><clipPath id="bc16"><rect x="1941.9" y="2027.2" width="360.1" height="61"/></clipPath><linearGradient id="bg16" x1="0" y1="0" x2="1" y2="0"><stop offset="0" stop-color="#cccccc"/><stop offset="1" stop-color="#ececec"/></linearGradient><filter id="bf16" filterUnits="userSpaceOnUse" x="1921.9" y="2007.2" width="400.1" height="101"><feGaussianBlur stdDeviation="2.4"/></filter></defs>
<text transform="translate(1562.84 1145.8) scale(0.4386 0.4430)" font-family='"Liberation Sans", Arial, sans-serif' font-weight="bold" font-size="100">Non-diabetic</text>
<text transform="translate(1941.83 1145.7) scale(0.4396 0.4430)" font-family='"Liberation Sans", Arial, sans-serif' font-weight="bold" font-size="100">Non-diabetic RKO</text>
<text transform="translate(1626.13 1721.7) scale(0.4395 0.4430)" font-family='"Liberation Sans", Arial, sans-serif' font-weight="bold" font-size="100">Diabetic</text>
<text transform="translate(1975.23 1721.3) scale(0.4403 0.4430)" font-family='"Liberation Sans", Arial, sans-serif' font-weight="bold" font-size="100">Diabetic RKO</text>
<text transform="translate(1432.46 1212) scale(0.4362 0.4350)" font-family='"Liberation Sans", Arial, sans-serif' font-weight="bold" font-size="100">Calc</text>
<text transform="translate(1429.6 1268.6) scale(0.4404 0.4470)" font-family='"Liberation Sans", Arial, sans-serif' font-weight="bold" font-size="100">AGE</text>
<text transform="translate(1386.63 1330.7) scale(0.4416 0.4430)" font-family='"Liberation Sans", Arial, sans-serif' font-weight="bold" font-size="100">α-SMA</text>
<text transform="translate(1340.67 1427.2) scale(0.4413 0.4430)" font-family='"Liberation Sans", Arial, sans-serif' font-weight="bold" font-size="100">Vimentin</text>
<text transform="translate(1430.83 1520) scale(0.4417 0.4430)" font-family='"Liberation Sans", Arial, sans-serif' font-weight="bold" font-size="100">OPN</text>
<text transform="translate(1324.33 1617.4) scale(0.4391 0.4430)" font-family='"Liberation Sans", Arial, sans-serif' font-weight="bold" font-size="100">β-Tubulin</text>
<text transform="translate(1387.35 1791.4) scale(0.4380 0.4430)" font-family='"Liberation Sans", Arial, sans-serif' font-weight="bold" font-size="100">α-SMA</text>
<text transform="translate(1341.57 1887.1) scale(0.4382 0.4430)" font-family='"Liberation Sans", Arial, sans-serif' font-weight="bold" font-size="100">Vimentin</text>
<text transform="translate(1431.25 1979.8) scale(0.4379 0.4430)" font-family='"Liberation Sans", Arial, sans-serif' font-weight="bold" font-size="100">OPN</text>
<text transform="translate(1324.23 2061.6) scale(0.4384 0.4430)" font-family='"Liberation Sans", Arial, sans-serif' font-weight="bold" font-size="100">β-Tubulin</text>
<text transform="translate(2308.25 1335.9) scale(0.4308 0.4430)" font-family='"Liberation Sans", Arial, sans-serif' font-weight="bold" font-size="100">42 kDa</text>
<text transform="translate(2307.6 1431.8) scale(0.4328 0.4430)" font-family='"Liberation Sans", Arial, sans-serif' font-weight="bold" font-size="100">55 kDa</text>
<text transform="translate(2307.93 1521.4) scale(0.4318 0.4430)" font-family='"Liberation Sans", Arial, sans-serif' font-weight="bold" font-size="100">32 kDa</text>
<text transform="translate(2307.6 1618.9) scale(0.4328 0.4430)" font-family='"Liberation Sans", Arial, sans-serif' font-weight="bold" font-size="100">55 kDa</text>
<text transform="translate(2308.25 1791.4) scale(0.4308 0.4430)" font-family='"Liberation Sans", Arial, sans-serif' font-weight="bold" font-size="100">42 kDa</text>
<text transform="translate(2307.6 1894.8) scale(0.4328 0.4430)" font-family='"Liberation Sans", Arial, sans-serif' font-weight="bold" font-size="100">55 kDa</text>
<text transform="translate(2307.93 1981.7) scale(0.4318 0.4430)" font-family='"Liberation Sans", Arial, sans-serif' font-weight="bold" font-size="100">32 kDa</text>
<text transform="translate(2307.6 2071.5) scale(0.4328 0.4430)" font-family='"Liberation Sans", Arial, sans-serif' font-weight="bold" font-size="100">55 kDa</text>
<text transform="translate(1560.6 1208.88) scale(0.4752 0.4917)" font-family='"Liberation Sans", Arial, sans-serif' font-weight="bold" font-size="100">-</text>
<text transform="translate(1560.6 1270.38) scale(0.4752 0.4917)" font-family='"Liberation Sans", Arial, sans-serif' font-weight="bold" font-size="100">-</text>
<text transform="translate(1651.4 1208.88) scale(0.4752 0.4917)" font-family='"Liberation Sans", Arial, sans-serif' font-weight="bold" font-size="100">-</text>
<text transform="translate(1649.23 1273.21) scale(0.3443 0.4755)" font-family='"Liberation Sans", Arial, sans-serif' font-weight="normal" font-size="100" stroke="#000" stroke-width="1.71" stroke-linejoin="miter">+</text>
<text transform="translate(1740.53 1209.81) scale(0.3443 0.4755)" font-family='"Liberation Sans", Arial, sans-serif' font-weight="normal" font-size="100" stroke="#000" stroke-width="1.71" stroke-linejoin="miter">+</text>
<text transform="translate(1742.7 1270.38) scale(0.4752 0.4917)" font-family='"Liberation Sans", Arial, sans-serif' font-weight="bold" font-size="100">-</text>
<text transform="translate(1831.83 1209.81) scale(0.3443 0.4755)" font-family='"Liberation Sans", Arial, sans-serif' font-weight="normal" font-size="100" stroke="#000" stroke-width="1.71" stroke-linejoin="miter">+</text>
<text transform="translate(1831.83 1273.21) scale(0.3443 0.4755)" font-family='"Liberation Sans", Arial, sans-serif' font-weight="normal" font-size="100" stroke="#000" stroke-width="1.71" stroke-linejoin="miter">+</text>
<text transform="translate(1973.7 1207.58) scale(0.4752 0.4917)" font-family='"Liberation Sans", Arial, sans-serif' font-weight="bold" font-size="100">-</text>
<text transform="translate(1973.7 1270.08) scale(0.4752 0.4917)" font-family='"Liberation Sans", Arial, sans-serif' font-weight="bold" font-size="100">-</text>
<text transform="translate(2067.5 1207.58) scale(0.4752 0.4917)" font-family='"Liberation Sans", Arial, sans-serif' font-weight="bold" font-size="100">-</text>
<text transform="translate(2065.33 1271.61) scale(0.3443 0.4755)" font-family='"Liberation Sans", Arial, sans-serif' font-weight="normal" font-size="100" stroke="#000" stroke-width="1.71" stroke-linejoin="miter">+</text>
<text transform="translate(2159.43 1208.91) scale(0.3443 0.4755)" font-family='"Liberation Sans", Arial, sans-serif' font-weight="normal" font-size="100" stroke="#000" stroke-width="1.71" stroke-linejoin="miter">+</text>
<text transform="translate(2161.6 1270.08) scale(0.4752 0.4917)" font-family='"Liberation Sans", Arial, sans-serif' font-weight="bold" font-size="100">-</text>
<text transform="translate(2253.03 1208.91) scale(0.3443 0.4755)" font-family='"Liberation Sans", Arial, sans-serif' font-weight="normal" font-size="100" stroke="#000" stroke-width="1.71" stroke-linejoin="miter">+</text>
<text transform="translate(2253.03 1271.61) scale(0.3443 0.4755)" font-family='"Liberation Sans", Arial, sans-serif' font-weight="normal" font-size="100" stroke="#000" stroke-width="1.71" stroke-linejoin="miter">+</text>
<g clip-path="url(#bc1)">
<rect x="1532.4" y="1284.9" width="356.5" height="60.7" fill="url(#bg1)"/>
<rect x="1532.4" y="1284.9" width="356.5" height="60.7" filter="url(#bnoise)" opacity="0.06"/>
<g filter="url(#bf1)">
<path d="M1544.55 1318 Q1571.35 1318.85 1598.15 1316.5" fill="none" stroke="#101010" stroke-opacity="0.36" stroke-width="17.5" stroke-linecap="round"/>
<path d="M1543.65 1318 Q1571.35 1318.85 1599.05 1316.5" fill="none" stroke="#101010" stroke-opacity="0.95" stroke-width="9.7" stroke-linecap="round"/>
<ellipse cx="1553.5" cy="1317.6" rx="11" ry="7.2" fill="#080808" fill-opacity="0.95"/>
<ellipse cx="1593" cy="1316" rx="9.5" ry="7" fill="#080808" fill-opacity="0.95"/>
<path d="M1628.8 1315.5 Q1657.1 1319.85 1685.4 1317" fill="none" stroke="#0c0c0c" stroke-opacity="0.38" stroke-width="19" stroke-linecap="round"/>
<path d="M1627.9 1315.5 Q1657.1 1319.85 1686.3 1317" fill="none" stroke="#0c0c0c" stroke-opacity="1" stroke-width="11.2" stroke-linecap="round"/>
<ellipse cx="1637.4" cy="1313" rx="12.5" ry="8.6" fill="#040404" fill-opacity="1"/>
<ellipse cx="1681" cy="1316" rx="10.5" ry="7.8" fill="#040404" fill-opacity="1"/>
<path d="M1714.65 1317 Q1742.85 1316.45 1771.05 1313.5" fill="none" stroke="#202020" stroke-opacity="0.34" stroke-width="16.5" stroke-linecap="round"/>
<path d="M1713.75 1317 Q1742.85 1316.45 1771.95 1313.5" fill="none" stroke="#202020" stroke-opacity="0.9" stroke-width="8.7" stroke-linecap="round"/>
<ellipse cx="1723.5" cy="1316.4" rx="10" ry="5.5" fill="#181818" fill-opacity="0.8"/>
<ellipse cx="1765.5" cy="1313.6" rx="10" ry="6.8" fill="#101010" fill-opacity="0.9"/>
<path d="M1797.8 1314.5 Q1829.65 1315.55 1861.5 1317.8" fill="none" stroke="#606060" stroke-opacity="0.19" stroke-width="14" stroke-linecap="round"/>
<path d="M1796.9 1314.5 Q1829.65 1315.55 1862.4 1317.8" fill="none" stroke="#606060" stroke-opacity="0.5" stroke-width="6.2" stroke-linecap="round"/>
</g>
</g>
<g clip-path="url(#bc2)">
<rect x="1532.4" y="1381.2" width="356.5" height="61" fill="url(#bg2)"/>
<rect x="1532.4" y="1381.2" width="356.5" height="61" filter="url(#bnoise)" opacity="0.06"/>
<g filter="url(#bf2)">
<path d="M1552.3 1415 Q1575.05 1413.75 1597.8 1412.5" fill="none" stroke="#000000" stroke-opacity="0.38" stroke-width="20" stroke-linecap="round"/>
<path d="M1551.4 1415 Q1575.05 1413.75 1598.7 1412.5" fill="none" stroke="#000000" stroke-opacity="1" stroke-width="12.2" stroke-linecap="round"/>
<path d="M1633.65 1412.5 Q1657.55 1412 1681.45 1411.5" fill="none" stroke="#080808" stroke-opacity="0.38" stroke-width="19.5" stroke-linecap="round"/>
<path d="M1632.75 1412.5 Q1657.55 1412 1682.35 1411.5" fill="none" stroke="#080808" stroke-opacity="1" stroke-width="11.7" stroke-linecap="round"/>
<ellipse cx="1640" cy="1412.5" rx="11.5" ry="8.5" fill="#000000" fill-opacity="1"/>
<ellipse cx="1676" cy="1411.5" rx="9" ry="7" fill="#000000" fill-opacity="1"/>
<path d="M1719.35 1409.5 Q1744.2 1409.75 1769.05 1408" fill="none" stroke="#000000" stroke-opacity="0.38" stroke-width="20.5" stroke-linecap="round"/>
<path d="M1718.45 1409.5 Q1744.2 1409.75 1769.95 1408" fill="none" stroke="#000000" stroke-opacity="1" stroke-width="12.7" stroke-linecap="round"/>
<path d="M1805.95 1407.5 Q1835.35 1405.25 1864.75 1403" fill="none" stroke="#282828" stroke-opacity="0.34" stroke-width="17.5" stroke-linecap="round"/>
<path d="M1805.05 1407.5 Q1835.35 1405.25 1865.65 1403" fill="none" stroke="#282828" stroke-opacity="0.9" stroke-width="9.7" stroke-linecap="round"/>
<ellipse cx="1856" cy="1402.5" rx="13" ry="9" fill="#000000" fill-opacity="1"/>
</g>
<circle cx="1863.5" cy="1431.2" r="1.5" fill="#303030"/>
</g>
<g clip-path="url(#bc3)">
<rect x="1532.4" y="1475.1" width="356.5" height="60.9" fill="url(#bg3)"/>
<rect x="1532.4" y="1475.1" width="356.5" height="60.9" filter="url(#bnoise)" opacity="0.06"/>
<g filter="url(#bf3)">
<path d="M1551.85 1503.5 Q1575 1504 1598.15 1504.5" fill="none" stroke="#181818" stroke-opacity="0.35" stroke-width="15.5" stroke-linecap="round"/>
<path d="M1550.95 1503.5 Q1575 1504 1599.05 1504.5" fill="none" stroke="#181818" stroke-opacity="0.92" stroke-width="7.7" stroke-linecap="round"/>
<path d="M1633.45 1505 Q1657.55 1505.5 1681.65 1506" fill="none" stroke="#101010" stroke-opacity="0.36" stroke-width="15.5" stroke-linecap="round"/>
<path d="M1632.55 1505 Q1657.55 1505.5 1682.55 1506" fill="none" stroke="#101010" stroke-opacity="0.95" stroke-width="7.7" stroke-linecap="round"/>
<path d="M1716.7 1506.5 Q1742.35 1507 1768 1507.5" fill="none" stroke="#282828" stroke-opacity="0.31" stroke-width="15" stroke-linecap="round"/>
<path d="M1715.8 1506.5 Q1742.35 1507 1768.9 1507.5" fill="none" stroke="#282828" stroke-opacity="0.82" stroke-width="7.2" stroke-linecap="round"/>
<path d="M1799.6 1508 Q1830.85 1508.5 1862.1 1509" fill="none" stroke="#484848" stroke-opacity="0.21" stroke-width="14" stroke-linecap="round"/>
<path d="M1798.7 1508 Q1830.85 1508.5 1863 1509" fill="none" stroke="#484848" stroke-opacity="0.56" stroke-width="6.2" stroke-linecap="round"/>
</g>
</g>
<g clip-path="url(#bc4)">
<rect x="1532.4" y="1574.1" width="356.5" height="61.1" fill="url(#bg4)"/>
<rect x="1532.4" y="1574.1" width="356.5" height="61.1" fill="url(#bv4)"/>
<rect x="1532.4" y="1574.1" width="356.5" height="61.1" filter="url(#bnoise)" opacity="0.06"/>
<g filter="url(#bf4)">
<path d="M1539 1605.5 Q1571.25 1605 1603.5 1604.5" fill="none" stroke="#000000" stroke-opacity="0.38" stroke-width="27" stroke-linecap="round"/>
<path d="M1538.1 1605.5 Q1571.25 1605 1604.4 1604.5" fill="none" stroke="#000000" stroke-opacity="1" stroke-width="19.2" stroke-linecap="round"/>
<path d="M1631.25 1603 Q1658.5 1604.5 1685.75 1604" fill="none" stroke="#000000" stroke-opacity="0.38" stroke-width="27.5" stroke-linecap="round"/>
<path d="M1630.35 1603 Q1658.5 1604.5 1686.65 1604" fill="none" stroke="#000000" stroke-opacity="1" stroke-width="19.7" stroke-linecap="round"/>
<path d="M1716.05 1604 Q1744.65 1603.75 1773.25 1601.5" fill="none" stroke="#000000" stroke-opacity="0.38" stroke-width="28.5" stroke-linecap="round"/>
<path d="M1715.15 1604 Q1744.65 1603.75 1774.15 1601.5" fill="none" stroke="#000000" stroke-opacity="1" stroke-width="20.7" stroke-linecap="round"/>
<path d="M1796.95 1601 Q1829.05 1602 1861.15 1603" fill="none" stroke="#000000" stroke-opacity="0.38" stroke-width="21.5" stroke-linecap="round"/>
<path d="M1796.05 1601 Q1829.05 1602 1862.05 1603" fill="none" stroke="#000000" stroke-opacity="1" stroke-width="13.7" stroke-linecap="round"/>
<ellipse cx="1812" cy="1601.5" rx="21" ry="10" fill="#000000" fill-opacity="1"/>
</g>
<circle cx="1683" cy="1586.5" r="1.4" fill="#f8f8f8"/>
<circle cx="1738" cy="1580.5" r="1.4" fill="#f8f8f8"/>
<circle cx="1676" cy="1604.5" r="1.4" fill="#f8f8f8"/>
<circle cx="1620" cy="1634" r="1.4" fill="#f8f8f8"/>
<circle cx="1718" cy="1629" r="1.4" fill="#f8f8f8"/>
<circle cx="1799" cy="1617" r="1.4" fill="#f8f8f8"/>
<circle cx="1808" cy="1623" r="1.4" fill="#f8f8f8"/>
</g>
<g clip-path="url(#bc5)">
<rect x="1941.9" y="1284.9" width="360.1" height="60.7" fill="url(#bg5)"/>
<rect x="1941.9" y="1284.9" width="360.1" height="60.7" filter="url(#bnoise)" opacity="0.06"/>
<g filter="url(#bf5)">
<path d="M1959 1322.5 Q1985.5 1321 2012 1319.5" fill="none" stroke="#202020" stroke-opacity="0.32" stroke-width="21" stroke-linecap="round"/>
<path d="M1958.1 1322.5 Q1985.5 1321 2012.9 1319.5" fill="none" stroke="#202020" stroke-opacity="0.85" stroke-width="13.2" stroke-linecap="round"/>
<ellipse cx="1964" cy="1323.3" rx="12.5" ry="11" fill="#000000" fill-opacity="1"/>
<ellipse cx="2007" cy="1320.5" rx="11.5" ry="10.5" fill="#000000" fill-opacity="1"/>
<path d="M2044 1318 Q2070.5 1318.75 2097 1319.5" fill="none" stroke="#282828" stroke-opacity="0.3" stroke-width="21" stroke-linecap="round"/>
<path d="M2043.1 1318 Q2070.5 1318.75 2097.9 1319.5" fill="none" stroke="#282828" stroke-opacity="0.8" stroke-width="13.2" stroke-linecap="round"/>
<ellipse cx="2049" cy="1317.8" rx="11.5" ry="10" fill="#000000" fill-opacity="1"/>
<ellipse cx="2093" cy="1320" rx="12" ry="10.5" fill="#000000" fill-opacity="1"/>
<path d="M2129.5 1318.5 Q2154.5 1317 2179.5 1315.5" fill="none" stroke="#282828" stroke-opacity="0.27" stroke-width="20" stroke-linecap="round"/>
<path d="M2128.6 1318.5 Q2154.5 1317 2180.4 1315.5" fill="none" stroke="#282828" stroke-opacity="0.72" stroke-width="12.2" stroke-linecap="round"/>
<ellipse cx="2136" cy="1318.5" rx="9" ry="7" fill="#101010" fill-opacity="0.5"/>
<path d="M2211 1314 Q2241.75 1314.25 2272.5 1314.5" fill="none" stroke="#808080" stroke-opacity="0.07" stroke-width="17" stroke-linecap="round"/>
<path d="M2210.1 1314 Q2241.75 1314.25 2273.4 1314.5" fill="none" stroke="#808080" stroke-opacity="0.18" stroke-width="9.2" stroke-linecap="round"/>
</g>
<circle cx="1962" cy="1292" r="1.5" fill="#f4f4f4"/>
<circle cx="1992" cy="1309.5" r="1.5" fill="#f4f4f4"/>
<circle cx="2049" cy="1298" r="1.5" fill="#f4f4f4"/>
<circle cx="2079" cy="1289" r="1.5" fill="#f4f4f4"/>
<circle cx="2121" cy="1293.5" r="1.5" fill="#f4f4f4"/>
<circle cx="2106" cy="1339" r="1.5" fill="#f4f4f4"/>
<circle cx="2190" cy="1333" r="1.5" fill="#f4f4f4"/>
<circle cx="2205" cy="1298" r="1.5" fill="#f4f4f4"/>
<circle cx="2217" cy="1294.5" r="1.5" fill="#f4f4f4"/>
<circle cx="2283" cy="1289" r="1.5" fill="#f4f4f4"/>
<circle cx="2157" cy="1324.5" r="1.5" fill="#f4f4f4"/>
<circle cx="2220" cy="1338" r="1.5" fill="#f4f4f4"/>
</g>
<g clip-path="url(#bc6)">
<rect x="1941.9" y="1381.2" width="360.1" height="61" fill="url(#bg6)"/>
<rect x="1941.9" y="1381.2" width="360.1" height="61" filter="url(#bnoise)" opacity="0.06"/>
<g filter="url(#bf6)">
<path d="M1961.75 1415.5 Q1987.25 1416.2 2012.75 1414.5" fill="none" stroke="#000000" stroke-opacity="0.38" stroke-width="26.5" stroke-linecap="round"/>
<path d="M1960.85 1415.5 Q1987.25 1416.2 2013.65 1414.5" fill="none" stroke="#000000" stroke-opacity="1" stroke-width="18.7" stroke-linecap="round"/>
<path d="M2052 1413.5 Q2076.3 1414.5 2100.6 1415.5" fill="none" stroke="#000000" stroke-opacity="0.38" stroke-width="27" stroke-linecap="round"/>
<path d="M2051.1 1413.5 Q2076.3 1414.5 2101.5 1415.5" fill="none" stroke="#000000" stroke-opacity="1" stroke-width="19.2" stroke-linecap="round"/>
<path d="M2140.7 1418.5 Q2167 1418 2193.3 1417.5" fill="none" stroke="#000000" stroke-opacity="0.38" stroke-width="23" stroke-linecap="round"/>
<path d="M2139.8 1418.5 Q2167 1418 2194.2 1417.5" fill="none" stroke="#000000" stroke-opacity="1" stroke-width="15.2" stroke-linecap="round"/>
<path d="M2228.2 1419 Q2254.6 1418.5 2281 1420" fill="none" stroke="#000000" stroke-opacity="0.38" stroke-width="20" stroke-linecap="round"/>
<path d="M2227.3 1419 Q2254.6 1418.5 2281.9 1420" fill="none" stroke="#000000" stroke-opacity="1" stroke-width="12.2" stroke-linecap="round"/>
</g>
<circle cx="2075.5" cy="1437.8" r="1.6" fill="#282828"/>
</g>
<g clip-path="url(#bc7)">
<rect x="1941.9" y="1475.1" width="360.1" height="60.9" fill="url(#bg7)"/>
<rect x="1941.9" y="1475.1" width="360.1" height="60.9" filter="url(#bnoise)" opacity="0.06"/>
<g filter="url(#bf7)">
<path d="M1959.25 1503.5 Q1982 1504.25 2004.75 1505" fill="none" stroke="#202020" stroke-opacity="0.26" stroke-width="19.5" stroke-linecap="round"/>
<path d="M1958.35 1503.5 Q1982 1504.25 2005.65 1505" fill="none" stroke="#202020" stroke-opacity="0.68" stroke-width="11.7" stroke-linecap="round"/>
<path d="M2047.25 1505 Q2069.5 1506.25 2091.75 1507.5" fill="none" stroke="#181818" stroke-opacity="0.3" stroke-width="19.5" stroke-linecap="round"/>
<path d="M2046.35 1505 Q2069.5 1506.25 2092.65 1507.5" fill="none" stroke="#181818" stroke-opacity="0.78" stroke-width="11.7" stroke-linecap="round"/>
<path d="M2134.4 1508.5 Q2156.95 1508.25 2179.5 1508" fill="none" stroke="#404040" stroke-opacity="0.15" stroke-width="14" stroke-linecap="round"/>
<path d="M2133.5 1508.5 Q2156.95 1508.25 2180.4 1508" fill="none" stroke="#404040" stroke-opacity="0.4" stroke-width="6.2" stroke-linecap="round"/>
<path d="M2220.35 1512 Q2245.45 1513 2270.55 1514" fill="none" stroke="#505050" stroke-opacity="0.1" stroke-width="13.5" stroke-linecap="round"/>
<path d="M2219.45 1512 Q2245.45 1513 2271.45 1514" fill="none" stroke="#505050" stroke-opacity="0.25" stroke-width="5.7" stroke-linecap="round"/>
</g>
<circle cx="2297.8" cy="1520" r="1.5" fill="#101010"/>
<circle cx="2015.5" cy="1535.3" r="1.5" fill="#101010"/>
</g>
<g clip-path="url(#bc8)">
<rect x="1941.9" y="1574.1" width="360.1" height="61.1" fill="url(#bg8)"/>
<rect x="1941.9" y="1574.1" width="360.1" height="61.1" filter="url(#bnoise)" opacity="0.06"/>
<g filter="url(#bf8)">
<path d="M1962.3 1601.5 Q1987.8 1602.3 2013.3 1601.5" fill="none" stroke="#000000" stroke-opacity="0.38" stroke-width="20" stroke-linecap="round"/>
<path d="M1961.4 1601.5 Q1987.8 1602.3 2014.2 1601.5" fill="none" stroke="#000000" stroke-opacity="1" stroke-width="12.2" stroke-linecap="round"/>
<path d="M2044.3 1604 Q2072.15 1604 2100 1602" fill="none" stroke="#000000" stroke-opacity="0.38" stroke-width="19" stroke-linecap="round"/>
<path d="M2043.4 1604 Q2072.15 1604 2100.9 1602" fill="none" stroke="#000000" stroke-opacity="1" stroke-width="11.2" stroke-linecap="round"/>
<path d="M2131.1 1600.5 Q2158.35 1605.25 2185.6 1606" fill="none" stroke="#000000" stroke-opacity="0.38" stroke-width="22" stroke-linecap="round"/>
<path d="M2130.2 1600.5 Q2158.35 1605.25 2186.5 1606" fill="none" stroke="#000000" stroke-opacity="1" stroke-width="14.2" stroke-linecap="round"/>
<path d="M2218.65 1605.5 Q2244.95 1606.25 2271.25 1607" fill="none" stroke="#000000" stroke-opacity="0.38" stroke-width="17.5" stroke-linecap="round"/>
<path d="M2217.75 1605.5 Q2244.95 1606.25 2272.15 1607" fill="none" stroke="#000000" stroke-opacity="1" stroke-width="9.7" stroke-linecap="round"/>
</g>
<circle cx="2205.8" cy="1592" r="1.7" fill="#101010"/>
<circle cx="1972" cy="1577.5" r="1.4" fill="#fafafa"/>
<circle cx="2030" cy="1587" r="1.4" fill="#fafafa"/>
<circle cx="2067" cy="1579" r="1.4" fill="#fafafa"/>
<circle cx="2120" cy="1590" r="1.4" fill="#fafafa"/>
<circle cx="2085" cy="1611.5" r="1.4" fill="#fafafa"/>
<circle cx="1992" cy="1627" r="1.4" fill="#fafafa"/>
<circle cx="2010" cy="1629" r="1.4" fill="#fafafa"/>
<circle cx="2105" cy="1616" r="1.4" fill="#fafafa"/>
<circle cx="2200" cy="1619" r="1.4" fill="#fafafa"/>
<circle cx="2252" cy="1623" r="1.4" fill="#fafafa"/>
<circle cx="2290" cy="1612" r="1.4" fill="#fafafa"/>
<circle cx="2150" cy="1583" r="1.4" fill="#fafafa"/>
</g>
<g clip-path="url(#bc9)">
<rect x="1532.4" y="1746.5" width="356.5" height="60.7" fill="url(#bg9)"/>
<rect x="1532.4" y="1746.5" width="356.5" height="60.7" filter="url(#bnoise)" opacity="0.06"/>
<g filter="url(#bf9)">
<path d="M1547.3 1775.5 Q1574.6 1774.75 1601.9 1774" fill="none" stroke="#000000" stroke-opacity="0.38" stroke-width="21" stroke-linecap="round"/>
<path d="M1546.4 1775.5 Q1574.6 1774.75 1602.8 1774" fill="none" stroke="#000000" stroke-opacity="1" stroke-width="13.2" stroke-linecap="round"/>
<path d="M1630.6 1774 Q1655.25 1774 1679.9 1772" fill="none" stroke="#000000" stroke-opacity="0.38" stroke-width="19" stroke-linecap="round"/>
<path d="M1629.7 1774 Q1655.25 1774 1680.8 1772" fill="none" stroke="#000000" stroke-opacity="1" stroke-width="11.2" stroke-linecap="round"/>
<path d="M1709.3 1775 Q1737.8 1774.75 1766.3 1774.5" fill="none" stroke="#282828" stroke-opacity="0.3" stroke-width="15" stroke-linecap="round"/>
<path d="M1708.4 1775 Q1737.8 1774.75 1767.2 1774.5" fill="none" stroke="#282828" stroke-opacity="0.8" stroke-width="7.2" stroke-linecap="round"/>
<ellipse cx="1716" cy="1775" rx="11" ry="6.5" fill="#000000" fill-opacity="1"/>
<path d="M1794.9 1774 Q1831.75 1775.85 1868.6 1782.5" fill="none" stroke="#404040" stroke-opacity="0.24" stroke-width="12" stroke-linecap="round"/>
<path d="M1794 1774 Q1831.75 1775.85 1869.5 1782.5" fill="none" stroke="#404040" stroke-opacity="0.62" stroke-width="4.2" stroke-linecap="round"/>
</g>
</g>
<g clip-path="url(#bc10)">
<rect x="1532.4" y="1842.3" width="356.5" height="61" fill="url(#bg10)"/>
<rect x="1532.4" y="1842.3" width="356.5" height="61" filter="url(#bnoise)" opacity="0.06"/>
<g filter="url(#bf10)">
<path d="M1548 1876.5 Q1575 1876.75 1602 1877" fill="none" stroke="#181818" stroke-opacity="0.34" stroke-width="17" stroke-linecap="round"/>
<path d="M1547.1 1876.5 Q1575 1876.75 1602.9 1877" fill="none" stroke="#181818" stroke-opacity="0.9" stroke-width="9.2" stroke-linecap="round"/>
<ellipse cx="1552.5" cy="1876.2" rx="11" ry="8.5" fill="#000000" fill-opacity="1"/>
<ellipse cx="1599" cy="1877" rx="8.5" ry="6.5" fill="#000000" fill-opacity="1"/>
<path d="M1636.3 1875.5 Q1661.2 1877.3 1686.1 1877.5" fill="none" stroke="#000000" stroke-opacity="0.38" stroke-width="23" stroke-linecap="round"/>
<path d="M1635.4 1875.5 Q1661.2 1877.3 1687 1877.5" fill="none" stroke="#000000" stroke-opacity="1" stroke-width="15.2" stroke-linecap="round"/>
<path d="M1720.25 1882 Q1746.5 1881.5 1772.75 1881" fill="none" stroke="#282828" stroke-opacity="0.32" stroke-width="18.5" stroke-linecap="round"/>
<path d="M1719.35 1882 Q1746.5 1881.5 1773.65 1881" fill="none" stroke="#282828" stroke-opacity="0.85" stroke-width="10.7" stroke-linecap="round"/>
<ellipse cx="1721.5" cy="1881.8" rx="6.5" ry="5.5" fill="#000000" fill-opacity="1"/>
<ellipse cx="1771.3" cy="1880.8" rx="10" ry="10" fill="#000000" fill-opacity="1"/>
<path d="M1805.8 1882.5 Q1833.65 1882.75 1861.5 1883" fill="none" stroke="#303030" stroke-opacity="0.25" stroke-width="19" stroke-linecap="round"/>
<path d="M1804.9 1882.5 Q1833.65 1882.75 1862.4 1883" fill="none" stroke="#303030" stroke-opacity="0.66" stroke-width="11.2" stroke-linecap="round"/>
<ellipse cx="1808" cy="1882.6" rx="8" ry="6.5" fill="#000000" fill-opacity="0.9"/>
</g>
</g>
<g clip-path="url(#bc11)">
<rect x="1532.4" y="1936.2" width="356.5" height="61.2" fill="url(#bg11)"/>
<rect x="1532.4" y="1936.2" width="356.5" height="61.2" filter="url(#bnoise)" opacity="0.06"/>
<g filter="url(#bf11)">
<path d="M1553.6 1962 Q1575.5 1962.25 1597.4 1962.5" fill="none" stroke="#000000" stroke-opacity="0.38" stroke-width="19" stroke-linecap="round"/>
<path d="M1552.7 1962 Q1575.5 1962.25 1598.3 1962.5" fill="none" stroke="#000000" stroke-opacity="1" stroke-width="11.2" stroke-linecap="round"/>
<path d="M1633.05 1962 Q1656.65 1962.75 1680.25 1963.5" fill="none" stroke="#101010" stroke-opacity="0.3" stroke-width="16.5" stroke-linecap="round"/>
<path d="M1632.15 1962 Q1656.65 1962.75 1681.15 1963.5" fill="none" stroke="#101010" stroke-opacity="0.8" stroke-width="8.7" stroke-linecap="round"/>
<ellipse cx="1638" cy="1960.5" rx="9.5" ry="7.5" fill="#000000" fill-opacity="0.95"/>
<path d="M1718.2 1963.5 Q1741.95 1963.25 1765.7 1963" fill="none" stroke="#080808" stroke-opacity="0.35" stroke-width="18" stroke-linecap="round"/>
<path d="M1717.3 1963.5 Q1741.95 1963.25 1766.6 1963" fill="none" stroke="#080808" stroke-opacity="0.92" stroke-width="10.2" stroke-linecap="round"/>
<path d="M1806.6 1964 Q1831.8 1964.25 1857 1964.5" fill="none" stroke="#303030" stroke-opacity="0.14" stroke-width="17" stroke-linecap="round"/>
<path d="M1805.7 1964 Q1831.8 1964.25 1857.9 1964.5" fill="none" stroke="#303030" stroke-opacity="0.36" stroke-width="9.2" stroke-linecap="round"/>
<ellipse cx="1741.5" cy="1996" rx="6" ry="4" fill="#101010" fill-opacity="0.8"/>
</g>
<circle cx="1647.5" cy="1982.5" r="1.6" fill="#080808"/>
<circle cx="1676" cy="1973" r="1.6" fill="#080808"/>
<circle cx="1877.5" cy="1973" r="1.6" fill="#080808"/>
<circle cx="1769" cy="1944.5" r="1.6" fill="#f8f8f8"/>
</g>
<g clip-path="url(#bc12)">
<rect x="1532.4" y="2027" width="356.5" height="60.9" fill="url(#bg12)"/>
<rect x="1532.4" y="2027" width="356.5" height="60.9" filter="url(#bnoise)" opacity="0.06"/>
<g filter="url(#bf12)">
<path d="M1549.55 2056.5 Q1577.15 2057.1 1604.75 2056.5" fill="none" stroke="#000000" stroke-opacity="0.38" stroke-width="24.5" stroke-linecap="round"/>
<path d="M1548.65 2056.5 Q1577.15 2057.1 1605.65 2056.5" fill="none" stroke="#000000" stroke-opacity="1" stroke-width="16.7" stroke-linecap="round"/>
<path d="M1632.2 2057.5 Q1659.85 2057 1687.5 2056.5" fill="none" stroke="#000000" stroke-opacity="0.38" stroke-width="24" stroke-linecap="round"/>
<path d="M1631.3 2057.5 Q1659.85 2057 1688.4 2056.5" fill="none" stroke="#000000" stroke-opacity="1" stroke-width="16.2" stroke-linecap="round"/>
<path d="M1718.65 2057 Q1746.05 2058.1 1773.45 2058" fill="none" stroke="#000000" stroke-opacity="0.38" stroke-width="24.5" stroke-linecap="round"/>
<path d="M1717.75 2057 Q1746.05 2058.1 1774.35 2058" fill="none" stroke="#000000" stroke-opacity="1" stroke-width="16.7" stroke-linecap="round"/>
<path d="M1802.75 2057.5 Q1829.5 2059.25 1856.25 2059" fill="none" stroke="#000000" stroke-opacity="0.38" stroke-width="18.5" stroke-linecap="round"/>
<path d="M1801.85 2057.5 Q1829.5 2059.25 1857.15 2059" fill="none" stroke="#000000" stroke-opacity="1" stroke-width="10.7" stroke-linecap="round"/>
</g>
<circle cx="1537" cy="2040.5" r="1.4" fill="#707070"/>
<circle cx="1584" cy="2039" r="1.4" fill="#707070"/>
<circle cx="1591" cy="2039" r="1.4" fill="#707070"/>
<circle cx="1659" cy="2039" r="1.4" fill="#707070"/>
<circle cx="1671.5" cy="2041" r="1.4" fill="#707070"/>
<circle cx="1702" cy="2036.5" r="1.4" fill="#707070"/>
<circle cx="1721.5" cy="2041" r="1.4" fill="#707070"/>
<circle cx="1734" cy="2041" r="1.4" fill="#707070"/>
<circle cx="1818" cy="2031" r="1.4" fill="#707070"/>
<circle cx="1825" cy="2030.5" r="1.4" fill="#707070"/>
<circle cx="1859" cy="2039" r="1.4" fill="#707070"/>
<circle cx="1830.5" cy="2045" r="1.4" fill="#707070"/>
<circle cx="1887" cy="2051.5" r="1.4" fill="#707070"/>
<circle cx="1868" cy="2075" r="1.4" fill="#707070"/>
<circle cx="1884" cy="2070.5" r="1.4" fill="#707070"/>
<circle cx="1790" cy="2085.5" r="1.4" fill="#707070"/>
<circle cx="1840" cy="2085.5" r="1.4" fill="#707070"/>
<circle cx="1756" cy="2069.5" r="1.4" fill="#707070"/>
<circle cx="1697" cy="2070.5" r="1.4" fill="#707070"/>
<circle cx="1665.5" cy="2078.5" r="1.4" fill="#707070"/>
<circle cx="1643.5" cy="2081" r="1.4" fill="#707070"/>
<circle cx="1637" cy="2077" r="1.4" fill="#707070"/>
<circle cx="1562" cy="2085" r="1.4" fill="#707070"/>
<circle cx="1537" cy="2083" r="1.4" fill="#707070"/>
<circle cx="1574.5" cy="2068" r="1.4" fill="#707070"/>
</g>
<g clip-path="url(#bc13)">
<rect x="1941.9" y="1747.3" width="360.1" height="61.1" fill="url(#bg13)"/>
<rect x="1941.9" y="1747.3" width="360.1" height="61.1" filter="url(#bnoise)" opacity="0.06"/>
<g filter="url(#bf13)">
<path d="M1956.65 1780.5 Q1985 1781.05 2013.35 1780" fill="none" stroke="#000000" stroke-opacity="0.38" stroke-width="23.5" stroke-linecap="round"/>
<path d="M1955.75 1780.5 Q1985 1781.05 2014.25 1780" fill="none" stroke="#000000" stroke-opacity="1" stroke-width="15.7" stroke-linecap="round"/>
<path d="M2042.85 1779.5 Q2069.35 1779.5 2095.85 1779.5" fill="none" stroke="#000000" stroke-opacity="0.38" stroke-width="23.5" stroke-linecap="round"/>
<path d="M2041.95 1779.5 Q2069.35 1779.5 2096.75 1779.5" fill="none" stroke="#000000" stroke-opacity="1" stroke-width="15.7" stroke-linecap="round"/>
<path d="M2128.55 1780.5 Q2155.55 1780.6 2182.55 1779.5" fill="none" stroke="#000000" stroke-opacity="0.38" stroke-width="22.5" stroke-linecap="round"/>
<path d="M2127.65 1780.5 Q2155.55 1780.6 2183.45 1779.5" fill="none" stroke="#000000" stroke-opacity="1" stroke-width="14.7" stroke-linecap="round"/>
<path d="M2210.9 1781 Q2242.2 1781.25 2273.5 1781.5" fill="none" stroke="#303030" stroke-opacity="0.27" stroke-width="13" stroke-linecap="round"/>
<path d="M2210 1781 Q2242.2 1781.25 2274.4 1781.5" fill="none" stroke="#303030" stroke-opacity="0.7" stroke-width="5.2" stroke-linecap="round"/>
<ellipse cx="2214.5" cy="1781" rx="6" ry="3.6" fill="#000000" fill-opacity="0.85"/>
</g>
<circle cx="2064.5" cy="1753.2" r="1.6" fill="#404040"/>
<circle cx="2157" cy="1802.8" r="1.8" fill="#080808"/>
</g>
<g clip-path="url(#bc14)">
<rect x="1941.9" y="1845.6" width="360.1" height="61.1" fill="url(#bg14)"/>
<rect x="1941.9" y="1845.6" width="360.1" height="61.1" filter="url(#bnoise)" opacity="0.06"/>
<g filter="url(#bf14)">
<path d="M1958.95 1873.5 Q1985.5 1873.5 2012.05 1873.5" fill="none" stroke="#000000" stroke-opacity="0.38" stroke-width="22.5" stroke-linecap="round"/>
<path d="M1958.05 1873.5 Q1985.5 1873.5 2012.95 1873.5" fill="none" stroke="#000000" stroke-opacity="1" stroke-width="14.7" stroke-linecap="round"/>
<path d="M2043.5 1873 Q2070.3 1874.6 2097.1 1875" fill="none" stroke="#000000" stroke-opacity="0.38" stroke-width="23" stroke-linecap="round"/>
<path d="M2042.6 1873 Q2070.3 1874.6 2098 1875" fill="none" stroke="#000000" stroke-opacity="1" stroke-width="15.2" stroke-linecap="round"/>
<path d="M2129.7 1876 Q2156 1876.35 2182.3 1875.5" fill="none" stroke="#000000" stroke-opacity="0.38" stroke-width="23" stroke-linecap="round"/>
<path d="M2128.8 1876 Q2156 1876.35 2183.2 1875.5" fill="none" stroke="#000000" stroke-opacity="1" stroke-width="15.2" stroke-linecap="round"/>
<path d="M2215.55 1877.5 Q2244.95 1877.2 2274.35 1878.5" fill="none" stroke="#000000" stroke-opacity="0.38" stroke-width="20.5" stroke-linecap="round"/>
<path d="M2214.65 1877.5 Q2244.95 1877.2 2275.25 1878.5" fill="none" stroke="#000000" stroke-opacity="1" stroke-width="12.7" stroke-linecap="round"/>
</g>
<circle cx="1992.5" cy="1848.5" r="1.4" fill="#fafafa"/>
<circle cx="2092" cy="1848.5" r="1.4" fill="#fafafa"/>
<circle cx="2055" cy="1849" r="1.4" fill="#fafafa"/>
<circle cx="1970" cy="1892.5" r="1.4" fill="#fafafa"/>
<circle cx="2016" cy="1899" r="1.4" fill="#fafafa"/>
<circle cx="2035" cy="1901" r="1.4" fill="#fafafa"/>
<circle cx="2290" cy="1894" r="1.4" fill="#fafafa"/>
<circle cx="2221" cy="1862.5" r="1.4" fill="#fafafa"/>
<circle cx="2238.5" cy="1859.5" r="1.3" fill="#808080"/>
</g>
<g clip-path="url(#bc15)">
<rect x="1941.9" y="1936.2" width="360.1" height="61.5" fill="url(#bg15)"/>
<rect x="1941.9" y="1936.2" width="360.1" height="61.5" fill="url(#bv15)"/>
<rect x="1941.9" y="1936.2" width="360.1" height="61.5" filter="url(#bnoise)" opacity="0.06"/>
<g filter="url(#bf15)">
<path d="M1962 1978.5 Q1980.45 1975 1998.9 1971.5" fill="none" stroke="#000000" stroke-opacity="0.38" stroke-width="36" stroke-linecap="round"/>
<path d="M1961.1 1978.5 Q1980.45 1975 1999.8 1971.5" fill="none" stroke="#000000" stroke-opacity="1" stroke-width="28.2" stroke-linecap="round"/>
<path d="M2044.1 1968.5 Q2065.7 1963 2087.3 1957.5" fill="none" stroke="#000000" stroke-opacity="0.38" stroke-width="37" stroke-linecap="round"/>
<path d="M2043.2 1968.5 Q2065.7 1963 2088.2 1957.5" fill="none" stroke="#000000" stroke-opacity="1" stroke-width="29.2" stroke-linecap="round"/>
<path d="M2128.9 1957 Q2153.3 1957.25 2177.7 1955.5" fill="none" stroke="#000000" stroke-opacity="0.38" stroke-width="36" stroke-linecap="round"/>
<path d="M2128 1957 Q2153.3 1957.25 2178.6 1955.5" fill="none" stroke="#000000" stroke-opacity="1" stroke-width="28.2" stroke-linecap="round"/>
<path d="M2218.3 1952.5 Q2245.45 1958.45 2272.6 1962" fill="none" stroke="#000000" stroke-opacity="0.38" stroke-width="35" stroke-linecap="round"/>
<path d="M2217.4 1952.5 Q2245.45 1958.45 2273.5 1962" fill="none" stroke="#000000" stroke-opacity="1" stroke-width="27.2" stroke-linecap="round"/>
<path d="M2042.5 1937 Q2070 1937 2097.5 1937" fill="none" stroke="#101010" stroke-opacity="0.19" stroke-width="10" stroke-linecap="round"/>
<path d="M2041.6 1937 Q2070 1937 2098.4 1937" fill="none" stroke="#101010" stroke-opacity="0.5" stroke-width="2.2" stroke-linecap="round"/>
</g>
</g>
<g clip-path="url(#bc16)">
<rect x="1941.9" y="2027.2" width="360.1" height="61" fill="url(#bg16)"/>
<rect x="1941.9" y="2027.2" width="360.1" height="61" filter="url(#bnoise)" opacity="0.06"/>
<g filter="url(#bf16)">
<path d="M1953 2069.5 Q1982.25 2066.25 2011.5 2061" fill="none" stroke="#000000" stroke-opacity="0.38" stroke-width="31" stroke-linecap="round"/>
<path d="M1952.1 2069.5 Q1982.25 2066.25 2012.4 2061" fill="none" stroke="#000000" stroke-opacity="1" stroke-width="23.2" stroke-linecap="round"/>
<path d="M2043.25 2064.5 Q2068.3 2062 2093.35 2057.5" fill="none" stroke="#000000" stroke-opacity="0.38" stroke-width="30.5" stroke-linecap="round"/>
<path d="M2042.35 2064.5 Q2068.3 2062 2094.25 2057.5" fill="none" stroke="#000000" stroke-opacity="1" stroke-width="22.7" stroke-linecap="round"/>
<path d="M2128.85 2059.5 Q2153.3 2056.5 2177.75 2051.5" fill="none" stroke="#000000" stroke-opacity="0.38" stroke-width="28.5" stroke-linecap="round"/>
<path d="M2127.95 2059.5 Q2153.3 2056.5 2178.65 2051.5" fill="none" stroke="#000000" stroke-opacity="1" stroke-width="20.7" stroke-linecap="round"/>
<path d="M2208.2 2055.5 Q2237.65 2054.1 2267.1 2049.5" fill="none" stroke="#000000" stroke-opacity="0.38" stroke-width="24" stroke-linecap="round"/>
<path d="M2207.3 2055.5 Q2237.65 2054.1 2268 2049.5" fill="none" stroke="#000000" stroke-opacity="1" stroke-width="16.2" stroke-linecap="round"/>
</g>
<circle cx="2003.5" cy="2042.2" r="1.8" fill="#101010"/>
<circle cx="2018" cy="2056.5" r="1.5" fill="#d0d0d0"/>
</g>
</svg>
</body></html>
